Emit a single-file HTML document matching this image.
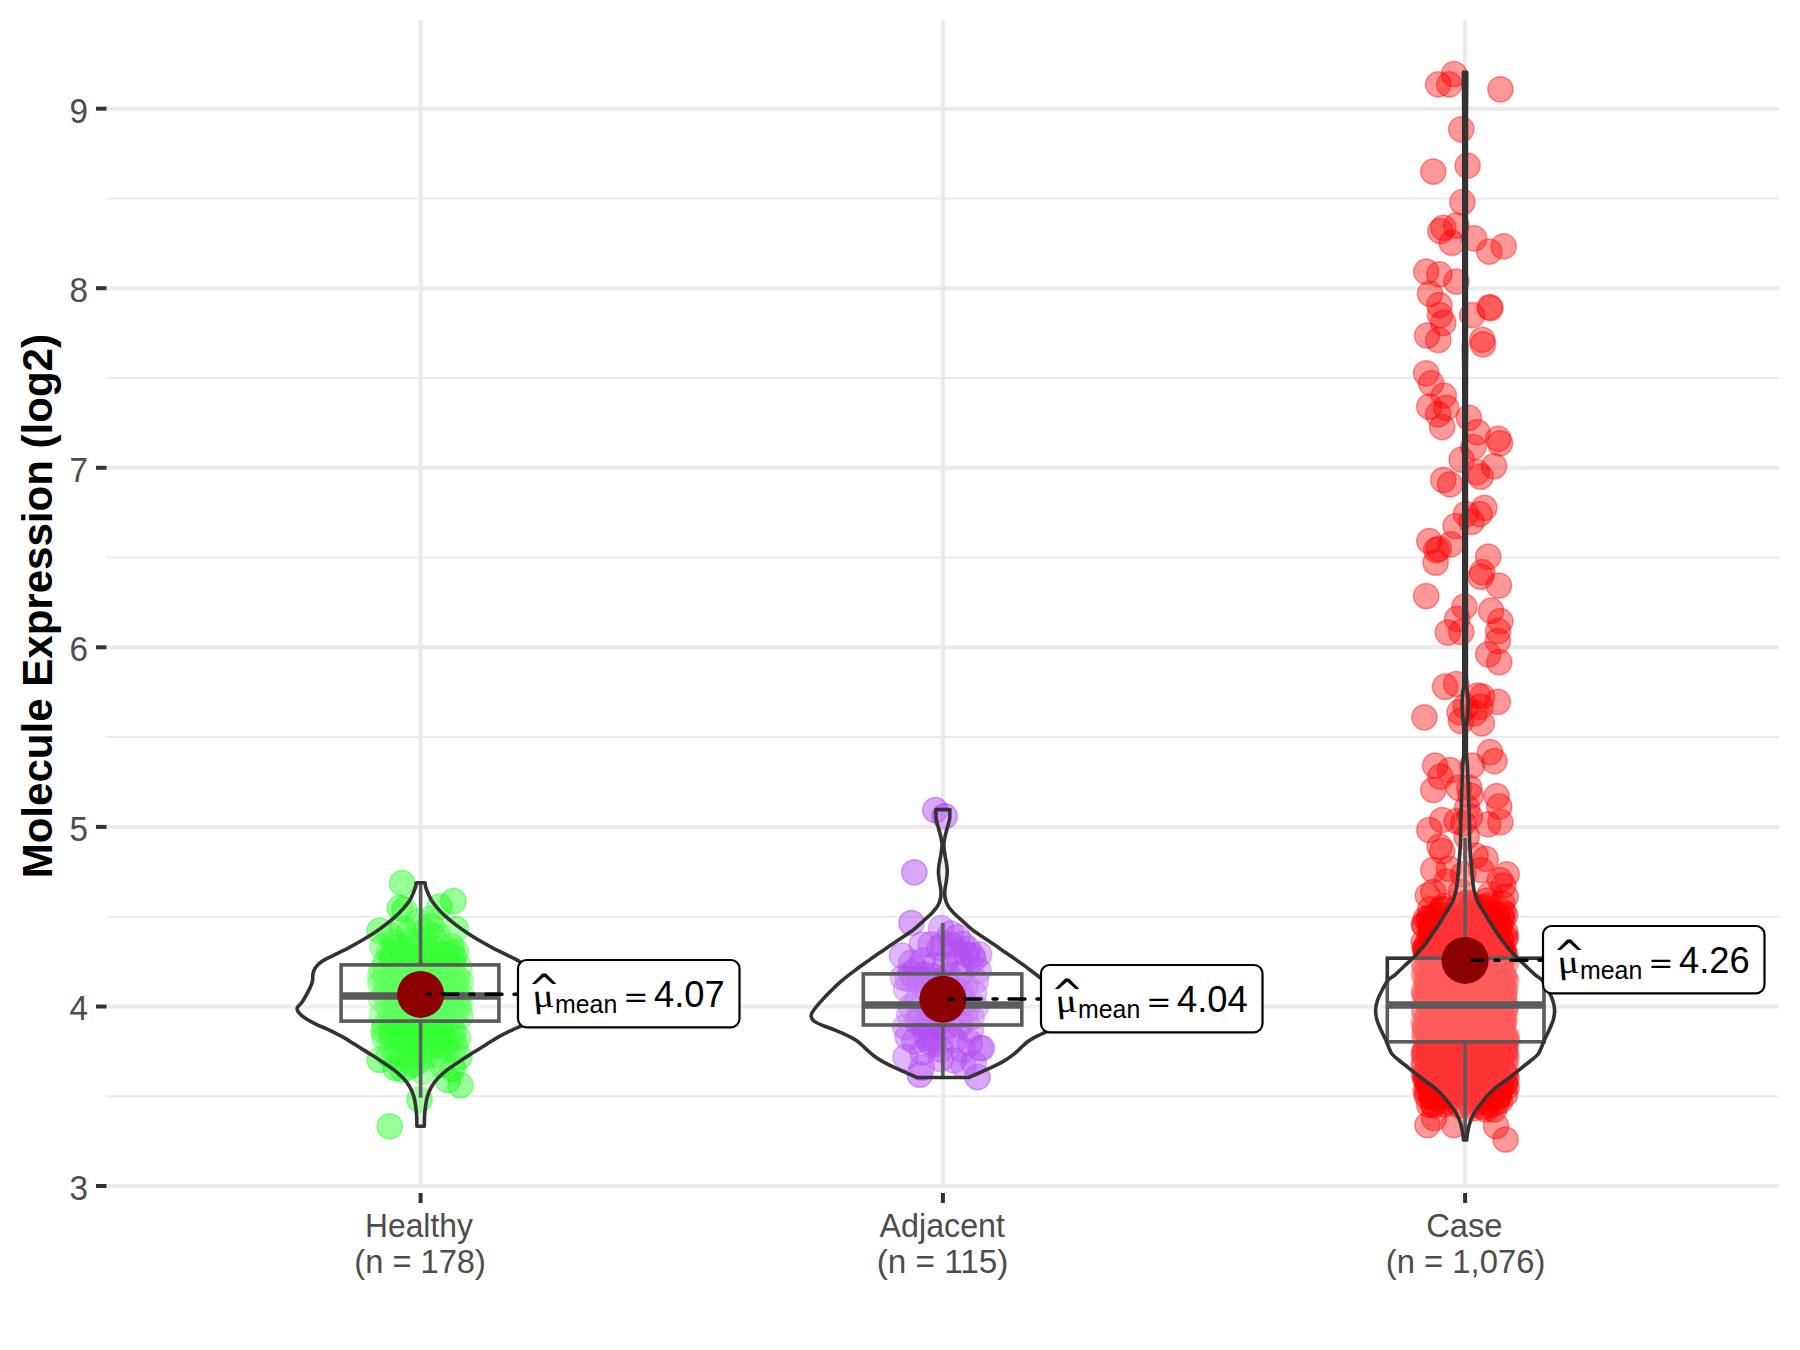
<!DOCTYPE html>
<html lang="en"><head><meta charset="utf-8"><title>Molecule Expression (log2)</title>
<style>
html,body{margin:0;padding:0;background:#fff;}
body{width:1800px;height:1350px;overflow:hidden;}
svg{display:block;}
text{font-family:"Liberation Sans",Arial,sans-serif;}
.ax{font-size:33.3px;fill:#4d4d4d;}
.ttl{font-size:41.7px;font-weight:bold;fill:#000;}
.lab{font-size:35.6px;fill:#000;}
.sub{font-size:24.9px;fill:#000;}
.mu{font-family:"Liberation Serif","DejaVu Serif",serif;font-style:italic;font-size:37px;fill:#000;}
.eq{font-family:"DejaVu Serif",serif;font-size:30px;fill:#000;}
.hat{font-family:"DejaVu Sans",sans-serif;font-size:39px;fill:#000;}
</style></head><body>
<svg width="1800" height="1350" viewBox="0 0 1800 1350">
<rect width="1800" height="1350" fill="#fff"/>
<g id="grid">
<line x1="106.5" x2="1779" y1="1096.2" y2="1096.2" stroke="#ebebeb" stroke-width="2"/>
<line x1="106.5" x2="1779" y1="916.7" y2="916.7" stroke="#ebebeb" stroke-width="2"/>
<line x1="106.5" x2="1779" y1="737.1" y2="737.1" stroke="#ebebeb" stroke-width="2"/>
<line x1="106.5" x2="1779" y1="557.6" y2="557.6" stroke="#ebebeb" stroke-width="2"/>
<line x1="106.5" x2="1779" y1="378.0" y2="378.0" stroke="#ebebeb" stroke-width="2"/>
<line x1="106.5" x2="1779" y1="198.5" y2="198.5" stroke="#ebebeb" stroke-width="2"/>
<line x1="106.5" x2="1779" y1="1186.0" y2="1186.0" stroke="#ebebeb" stroke-width="4"/>
<line x1="106.5" x2="1779" y1="1006.5" y2="1006.5" stroke="#ebebeb" stroke-width="4"/>
<line x1="106.5" x2="1779" y1="826.9" y2="826.9" stroke="#ebebeb" stroke-width="4"/>
<line x1="106.5" x2="1779" y1="647.3" y2="647.3" stroke="#ebebeb" stroke-width="4"/>
<line x1="106.5" x2="1779" y1="467.8" y2="467.8" stroke="#ebebeb" stroke-width="4"/>
<line x1="106.5" x2="1779" y1="288.2" y2="288.2" stroke="#ebebeb" stroke-width="4"/>
<line x1="106.5" x2="1779" y1="108.7" y2="108.7" stroke="#ebebeb" stroke-width="4"/>
<line x1="420.6" x2="420.6" y1="20" y2="1188" stroke="#ebebeb" stroke-width="4"/>
<line x1="942.9" x2="942.9" y1="20" y2="1188" stroke="#ebebeb" stroke-width="4"/>
<line x1="1465.1" x2="1465.1" y1="20" y2="1188" stroke="#ebebeb" stroke-width="4"/>
<line x1="96" x2="106.5" y1="1186.0" y2="1186.0" stroke="#333" stroke-width="4"/>
<line x1="96" x2="106.5" y1="1006.5" y2="1006.5" stroke="#333" stroke-width="4"/>
<line x1="96" x2="106.5" y1="826.9" y2="826.9" stroke="#333" stroke-width="4"/>
<line x1="96" x2="106.5" y1="647.3" y2="647.3" stroke="#333" stroke-width="4"/>
<line x1="96" x2="106.5" y1="467.8" y2="467.8" stroke="#333" stroke-width="4"/>
<line x1="96" x2="106.5" y1="288.2" y2="288.2" stroke="#333" stroke-width="4"/>
<line x1="96" x2="106.5" y1="108.7" y2="108.7" stroke="#333" stroke-width="4"/>
<line x1="420.6" x2="420.6" y1="1193" y2="1203" stroke="#333" stroke-width="4"/>
<line x1="942.9" x2="942.9" y1="1193" y2="1203" stroke="#333" stroke-width="4"/>
<line x1="1465.1" x2="1465.1" y1="1193" y2="1203" stroke="#333" stroke-width="4"/>
</g>
<g id="points">
<g fill="#00ff00" fill-opacity="0.4" stroke="#00ff00" stroke-opacity="0.4" stroke-width="1.5">
<circle cx="402.1" cy="883.2" r="12.6"/>
<circle cx="453.4" cy="901.1" r="12.6"/>
<circle cx="439.4" cy="906.6" r="12.6"/>
<circle cx="399.8" cy="908.1" r="12.6"/>
<circle cx="404.4" cy="909.7" r="12.6"/>
<circle cx="379.6" cy="930.7" r="12.6"/>
<circle cx="455.8" cy="929.1" r="12.6"/>
<circle cx="389.7" cy="1126.3" r="12.6"/>
<circle cx="419.5" cy="1099.6" r="12.6"/>
<circle cx="460.4" cy="1085.2" r="12.6"/>
<circle cx="448.0" cy="1080.1" r="12.6"/>
<circle cx="452.7" cy="1068.4" r="12.6"/>
<circle cx="379.6" cy="1059.9" r="12.6"/>
<circle cx="423.1" cy="1071.6" r="12.6"/>
<circle cx="409.1" cy="1056.0" r="12.6"/>
<circle cx="421.2" cy="973.7" r="12.6"/>
<circle cx="385.2" cy="974.7" r="12.6"/>
<circle cx="451.0" cy="1006.0" r="12.6"/>
<circle cx="459.5" cy="968.0" r="12.6"/>
<circle cx="427.1" cy="1024.8" r="12.6"/>
<circle cx="411.3" cy="967.6" r="12.6"/>
<circle cx="401.4" cy="992.2" r="12.6"/>
<circle cx="444.7" cy="1045.4" r="12.6"/>
<circle cx="422.9" cy="942.0" r="12.6"/>
<circle cx="422.9" cy="1001.2" r="12.6"/>
<circle cx="398.2" cy="1037.8" r="12.6"/>
<circle cx="436.2" cy="960.3" r="12.6"/>
<circle cx="444.9" cy="991.3" r="12.6"/>
<circle cx="445.0" cy="973.9" r="12.6"/>
<circle cx="408.5" cy="1016.8" r="12.6"/>
<circle cx="432.7" cy="937.3" r="12.6"/>
<circle cx="381.6" cy="999.4" r="12.6"/>
<circle cx="421.2" cy="955.5" r="12.6"/>
<circle cx="451.6" cy="1019.3" r="12.6"/>
<circle cx="415.1" cy="1046.0" r="12.6"/>
<circle cx="407.2" cy="1067.6" r="12.6"/>
<circle cx="384.8" cy="1025.6" r="12.6"/>
<circle cx="386.0" cy="986.1" r="12.6"/>
<circle cx="400.4" cy="970.8" r="12.6"/>
<circle cx="411.9" cy="993.7" r="12.6"/>
<circle cx="434.4" cy="1044.9" r="12.6"/>
<circle cx="392.9" cy="954.5" r="12.6"/>
<circle cx="440.9" cy="1007.8" r="12.6"/>
<circle cx="391.4" cy="1037.2" r="12.6"/>
<circle cx="398.7" cy="1021.5" r="12.6"/>
<circle cx="439.8" cy="1019.2" r="12.6"/>
<circle cx="402.7" cy="928.5" r="12.6"/>
<circle cx="431.0" cy="926.4" r="12.6"/>
<circle cx="417.5" cy="1062.1" r="12.6"/>
<circle cx="441.9" cy="1064.7" r="12.6"/>
<circle cx="455.1" cy="1047.1" r="12.6"/>
<circle cx="451.7" cy="946.4" r="12.6"/>
<circle cx="441.1" cy="1030.5" r="12.6"/>
<circle cx="401.2" cy="1058.9" r="12.6"/>
<circle cx="395.7" cy="986.7" r="12.6"/>
<circle cx="410.6" cy="981.2" r="12.6"/>
<circle cx="397.6" cy="1014.6" r="12.6"/>
<circle cx="411.8" cy="1008.0" r="12.6"/>
<circle cx="456.4" cy="998.0" r="12.6"/>
<circle cx="398.2" cy="1007.3" r="12.6"/>
<circle cx="418.6" cy="1016.9" r="12.6"/>
<circle cx="421.0" cy="1027.6" r="12.6"/>
<circle cx="398.0" cy="1044.1" r="12.6"/>
<circle cx="395.5" cy="1068.0" r="12.6"/>
<circle cx="382.6" cy="946.9" r="12.6"/>
<circle cx="440.6" cy="963.9" r="12.6"/>
<circle cx="382.1" cy="1015.3" r="12.6"/>
<circle cx="385.3" cy="962.6" r="12.6"/>
<circle cx="459.5" cy="1002.7" r="12.6"/>
<circle cx="389.9" cy="1017.7" r="12.6"/>
<circle cx="400.1" cy="1031.4" r="12.6"/>
<circle cx="460.4" cy="1016.2" r="12.6"/>
<circle cx="388.7" cy="1054.8" r="12.6"/>
<circle cx="432.9" cy="948.6" r="12.6"/>
<circle cx="431.9" cy="978.3" r="12.6"/>
<circle cx="460.8" cy="981.5" r="12.6"/>
<circle cx="410.1" cy="941.8" r="12.6"/>
<circle cx="412.9" cy="959.3" r="12.6"/>
<circle cx="425.6" cy="1056.1" r="12.6"/>
<circle cx="390.0" cy="935.0" r="12.6"/>
<circle cx="430.2" cy="984.9" r="12.6"/>
<circle cx="384.5" cy="1037.5" r="12.6"/>
<circle cx="402.4" cy="951.0" r="12.6"/>
<circle cx="389.4" cy="952.3" r="12.6"/>
<circle cx="388.6" cy="1006.9" r="12.6"/>
<circle cx="405.4" cy="1007.8" r="12.6"/>
<circle cx="417.8" cy="922.2" r="12.6"/>
<circle cx="456.0" cy="990.6" r="12.6"/>
<circle cx="453.3" cy="1030.7" r="12.6"/>
<circle cx="424.7" cy="1037.7" r="12.6"/>
<circle cx="416.8" cy="989.1" r="12.6"/>
<circle cx="401.6" cy="999.1" r="12.6"/>
<circle cx="406.6" cy="1028.5" r="12.6"/>
<circle cx="430.5" cy="964.7" r="12.6"/>
<circle cx="452.3" cy="1038.2" r="12.6"/>
<circle cx="406.0" cy="957.1" r="12.6"/>
<circle cx="397.6" cy="1001.0" r="12.6"/>
<circle cx="393.9" cy="942.0" r="12.6"/>
<circle cx="431.7" cy="994.2" r="12.6"/>
<circle cx="451.7" cy="994.7" r="12.6"/>
<circle cx="393.8" cy="1019.6" r="12.6"/>
<circle cx="395.6" cy="1054.2" r="12.6"/>
<circle cx="453.6" cy="979.7" r="12.6"/>
<circle cx="414.4" cy="1014.6" r="12.6"/>
<circle cx="443.1" cy="954.2" r="12.6"/>
<circle cx="390.0" cy="977.8" r="12.6"/>
<circle cx="445.0" cy="998.7" r="12.6"/>
<circle cx="418.0" cy="1037.7" r="12.6"/>
<circle cx="380.3" cy="983.0" r="12.6"/>
<circle cx="447.2" cy="1049.4" r="12.6"/>
<circle cx="391.5" cy="1033.5" r="12.6"/>
<circle cx="443.4" cy="1010.3" r="12.6"/>
<circle cx="391.4" cy="958.0" r="12.6"/>
<circle cx="425.7" cy="1047.3" r="12.6"/>
<circle cx="455.6" cy="1011.5" r="12.6"/>
<circle cx="418.5" cy="978.3" r="12.6"/>
<circle cx="420.9" cy="983.3" r="12.6"/>
<circle cx="430.9" cy="1011.8" r="12.6"/>
<circle cx="435.3" cy="1008.7" r="12.6"/>
<circle cx="455.7" cy="983.8" r="12.6"/>
<circle cx="459.5" cy="1008.8" r="12.6"/>
<circle cx="431.0" cy="1030.1" r="12.6"/>
<circle cx="430.5" cy="918.8" r="12.6"/>
<circle cx="384.9" cy="994.2" r="12.6"/>
<circle cx="443.8" cy="981.8" r="12.6"/>
<circle cx="435.6" cy="1054.7" r="12.6"/>
<circle cx="440.9" cy="1040.6" r="12.6"/>
<circle cx="429.3" cy="960.9" r="12.6"/>
<circle cx="451.8" cy="953.1" r="12.6"/>
<circle cx="381.8" cy="970.5" r="12.6"/>
<circle cx="458.1" cy="1038.1" r="12.6"/>
<circle cx="457.8" cy="978.6" r="12.6"/>
<circle cx="437.6" cy="936.2" r="12.6"/>
<circle cx="402.7" cy="1069.7" r="12.6"/>
<circle cx="398.0" cy="947.2" r="12.6"/>
<circle cx="431.0" cy="1044.6" r="12.6"/>
<circle cx="413.5" cy="1052.0" r="12.6"/>
<circle cx="459.4" cy="1057.0" r="12.6"/>
<circle cx="409.2" cy="932.1" r="12.6"/>
<circle cx="402.3" cy="1011.3" r="12.6"/>
<circle cx="413.2" cy="948.4" r="12.6"/>
<circle cx="422.2" cy="1009.2" r="12.6"/>
<circle cx="406.1" cy="1044.2" r="12.6"/>
<circle cx="423.1" cy="993.7" r="12.6"/>
<circle cx="456.0" cy="951.7" r="12.6"/>
<circle cx="407.2" cy="969.5" r="12.6"/>
<circle cx="423.1" cy="1015.1" r="12.6"/>
<circle cx="424.0" cy="1022.2" r="12.6"/>
<circle cx="392.1" cy="989.3" r="12.6"/>
<circle cx="448.1" cy="954.7" r="12.6"/>
<circle cx="427.5" cy="996.4" r="12.6"/>
<circle cx="460.1" cy="993.2" r="12.6"/>
<circle cx="443.7" cy="1034.8" r="12.6"/>
<circle cx="426.3" cy="930.6" r="12.6"/>
<circle cx="443.9" cy="976.6" r="12.6"/>
<circle cx="448.0" cy="967.2" r="12.6"/>
<circle cx="442.8" cy="994.1" r="12.6"/>
<circle cx="410.4" cy="998.4" r="12.6"/>
<circle cx="393.9" cy="999.2" r="12.6"/>
<circle cx="395.3" cy="996.3" r="12.6"/>
<circle cx="436.0" cy="1039.1" r="12.6"/>
<circle cx="432.5" cy="1002.8" r="12.6"/>
<circle cx="438.1" cy="972.6" r="12.6"/>
<circle cx="404.7" cy="1037.7" r="12.6"/>
<circle cx="413.1" cy="1064.2" r="12.6"/>
<circle cx="425.6" cy="968.4" r="12.6"/>
<circle cx="401.9" cy="1026.4" r="12.6"/>
<circle cx="453.0" cy="964.4" r="12.6"/>
<circle cx="426.1" cy="976.6" r="12.6"/>
<circle cx="412.8" cy="1028.1" r="12.6"/>
<circle cx="408.6" cy="1022.3" r="12.6"/>
<circle cx="383.4" cy="1030.8" r="12.6"/>
<circle cx="380.2" cy="976.1" r="12.6"/>
<circle cx="454.2" cy="957.7" r="12.6"/>
<circle cx="421.6" cy="986.5" r="12.6"/>
<circle cx="405.3" cy="980.8" r="12.6"/>
<circle cx="399.4" cy="1026.6" r="12.6"/>
<circle cx="428.6" cy="952.3" r="12.6"/>
<circle cx="438.2" cy="1033.3" r="12.6"/>
</g>
<g fill="#a020f0" fill-opacity="0.4" stroke="#a020f0" stroke-opacity="0.4" stroke-width="1.5">
<circle cx="935.3" cy="810.1" r="12.6"/>
<circle cx="944.7" cy="816.3" r="12.6"/>
<circle cx="914.3" cy="872.3" r="12.6"/>
<circle cx="911.5" cy="923.0" r="12.6"/>
<circle cx="941.1" cy="928.2" r="12.6"/>
<circle cx="950.8" cy="933.3" r="12.6"/>
<circle cx="957.4" cy="937.0" r="12.6"/>
<circle cx="921.9" cy="944.5" r="12.6"/>
<circle cx="967.8" cy="948.9" r="12.6"/>
<circle cx="972.3" cy="955.6" r="12.6"/>
<circle cx="901.9" cy="955.6" r="12.6"/>
<circle cx="973.7" cy="959.3" r="12.6"/>
<circle cx="977.5" cy="1077.1" r="12.6"/>
<circle cx="921.9" cy="1067.5" r="12.6"/>
<circle cx="905.6" cy="1057.1" r="12.6"/>
<circle cx="980.4" cy="1048.2" r="12.6"/>
<circle cx="973.7" cy="1063.0" r="12.6"/>
<circle cx="919.8" cy="1074.7" r="12.6"/>
<circle cx="982.0" cy="1048.0" r="12.6"/>
<circle cx="952.9" cy="1015.4" r="12.6"/>
<circle cx="930.9" cy="980.3" r="12.6"/>
<circle cx="940.7" cy="1059.1" r="12.6"/>
<circle cx="953.6" cy="987.9" r="12.6"/>
<circle cx="954.8" cy="1040.3" r="12.6"/>
<circle cx="911.2" cy="1006.8" r="12.6"/>
<circle cx="945.3" cy="964.2" r="12.6"/>
<circle cx="979.1" cy="954.4" r="12.6"/>
<circle cx="960.1" cy="961.2" r="12.6"/>
<circle cx="975.8" cy="980.7" r="12.6"/>
<circle cx="965.0" cy="1003.2" r="12.6"/>
<circle cx="939.2" cy="1022.4" r="12.6"/>
<circle cx="929.8" cy="1008.5" r="12.6"/>
<circle cx="923.5" cy="974.4" r="12.6"/>
<circle cx="951.6" cy="1004.1" r="12.6"/>
<circle cx="902.9" cy="977.5" r="12.6"/>
<circle cx="922.3" cy="1052.3" r="12.6"/>
<circle cx="917.6" cy="1021.7" r="12.6"/>
<circle cx="948.7" cy="975.5" r="12.6"/>
<circle cx="974.1" cy="993.0" r="12.6"/>
<circle cx="926.3" cy="1037.8" r="12.6"/>
<circle cx="939.3" cy="947.9" r="12.6"/>
<circle cx="978.5" cy="970.6" r="12.6"/>
<circle cx="922.7" cy="960.5" r="12.6"/>
<circle cx="960.6" cy="973.7" r="12.6"/>
<circle cx="962.8" cy="1050.2" r="12.6"/>
<circle cx="970.7" cy="1030.3" r="12.6"/>
<circle cx="905.3" cy="1026.9" r="12.6"/>
<circle cx="935.6" cy="996.3" r="12.6"/>
<circle cx="945.5" cy="999.2" r="12.6"/>
<circle cx="927.0" cy="990.3" r="12.6"/>
<circle cx="911.4" cy="962.7" r="12.6"/>
<circle cx="919.7" cy="1015.5" r="12.6"/>
<circle cx="915.7" cy="970.1" r="12.6"/>
<circle cx="914.3" cy="1041.2" r="12.6"/>
<circle cx="920.8" cy="979.9" r="12.6"/>
<circle cx="935.1" cy="965.4" r="12.6"/>
<circle cx="965.2" cy="985.5" r="12.6"/>
<circle cx="943.1" cy="1032.8" r="12.6"/>
<circle cx="959.7" cy="1024.5" r="12.6"/>
<circle cx="969.9" cy="1042.9" r="12.6"/>
<circle cx="940.2" cy="980.8" r="12.6"/>
<circle cx="937.6" cy="1014.6" r="12.6"/>
<circle cx="906.1" cy="989.0" r="12.6"/>
<circle cx="962.2" cy="943.7" r="12.6"/>
<circle cx="956.3" cy="951.1" r="12.6"/>
<circle cx="966.6" cy="954.4" r="12.6"/>
<circle cx="944.3" cy="1015.3" r="12.6"/>
<circle cx="959.9" cy="991.1" r="12.6"/>
<circle cx="907.7" cy="1037.1" r="12.6"/>
<circle cx="940.8" cy="1049.6" r="12.6"/>
<circle cx="917.7" cy="998.9" r="12.6"/>
<circle cx="951.4" cy="945.2" r="12.6"/>
<circle cx="929.0" cy="1022.3" r="12.6"/>
<circle cx="963.7" cy="1065.7" r="12.6"/>
<circle cx="966.3" cy="1010.3" r="12.6"/>
<circle cx="975.7" cy="1007.0" r="12.6"/>
<circle cx="933.8" cy="1044.0" r="12.6"/>
<circle cx="909.2" cy="1014.2" r="12.6"/>
<circle cx="971.6" cy="1016.9" r="12.6"/>
<circle cx="953.6" cy="1060.3" r="12.6"/>
<circle cx="942.8" cy="987.4" r="12.6"/>
<circle cx="930.6" cy="944.4" r="12.6"/>
<circle cx="923.9" cy="1026.5" r="12.6"/>
<circle cx="910.8" cy="973.6" r="12.6"/>
<circle cx="914.1" cy="979.7" r="12.6"/>
<circle cx="929.8" cy="1042.4" r="12.6"/>
<circle cx="932.9" cy="1037.6" r="12.6"/>
<circle cx="942.7" cy="1007.0" r="12.6"/>
<circle cx="954.1" cy="998.3" r="12.6"/>
<circle cx="949.8" cy="1025.8" r="12.6"/>
<circle cx="907.9" cy="978.9" r="12.6"/>
<circle cx="943.2" cy="943.6" r="12.6"/>
<circle cx="933.4" cy="1028.5" r="12.6"/>
<circle cx="933.6" cy="976.5" r="12.6"/>
<circle cx="929.9" cy="1015.7" r="12.6"/>
</g>
<g fill="#ff0000" fill-opacity="0.4" stroke="#ff0000" stroke-opacity="0.4" stroke-width="1.5">
<circle cx="1454.0" cy="74.0" r="12.6"/>
<circle cx="1438.2" cy="84.4" r="12.6"/>
<circle cx="1449.3" cy="84.4" r="12.6"/>
<circle cx="1500.4" cy="89.3" r="12.6"/>
<circle cx="1461.3" cy="129.3" r="12.6"/>
<circle cx="1467.6" cy="165.6" r="12.6"/>
<circle cx="1433.3" cy="171.6" r="12.6"/>
<circle cx="1462.4" cy="202.2" r="12.6"/>
<circle cx="1456.2" cy="225.6" r="12.6"/>
<circle cx="1443.3" cy="227.8" r="12.6"/>
<circle cx="1440.4" cy="231.1" r="12.6"/>
<circle cx="1451.8" cy="242.9" r="12.6"/>
<circle cx="1474.0" cy="238.4" r="12.6"/>
<circle cx="1489.3" cy="251.6" r="12.6"/>
<circle cx="1503.6" cy="246.4" r="12.6"/>
<circle cx="1426.2" cy="271.6" r="12.6"/>
<circle cx="1439.3" cy="274.4" r="12.6"/>
<circle cx="1456.4" cy="281.6" r="12.6"/>
<circle cx="1430.0" cy="293.8" r="12.6"/>
<circle cx="1439.3" cy="305.1" r="12.6"/>
<circle cx="1440.0" cy="315.1" r="12.6"/>
<circle cx="1443.3" cy="322.9" r="12.6"/>
<circle cx="1472.2" cy="315.1" r="12.6"/>
<circle cx="1489.6" cy="307.1" r="12.6"/>
<circle cx="1490.4" cy="308.2" r="12.6"/>
<circle cx="1427.1" cy="335.6" r="12.6"/>
<circle cx="1438.4" cy="340.0" r="12.6"/>
<circle cx="1482.2" cy="339.9" r="12.6"/>
<circle cx="1482.9" cy="344.3" r="12.6"/>
<circle cx="1426.2" cy="373.3" r="12.6"/>
<circle cx="1431.1" cy="383.3" r="12.6"/>
<circle cx="1443.8" cy="395.6" r="12.6"/>
<circle cx="1429.3" cy="406.7" r="12.6"/>
<circle cx="1446.2" cy="407.8" r="12.6"/>
<circle cx="1438.2" cy="414.4" r="12.6"/>
<circle cx="1442.2" cy="427.1" r="12.6"/>
<circle cx="1468.9" cy="417.8" r="12.6"/>
<circle cx="1477.3" cy="432.2" r="12.6"/>
<circle cx="1473.3" cy="447.1" r="12.6"/>
<circle cx="1498.2" cy="438.9" r="12.6"/>
<circle cx="1500.0" cy="443.3" r="12.6"/>
<circle cx="1461.6" cy="459.6" r="12.6"/>
<circle cx="1494.0" cy="466.2" r="12.6"/>
<circle cx="1476.7" cy="472.2" r="12.6"/>
<circle cx="1480.7" cy="476.7" r="12.6"/>
<circle cx="1443.3" cy="480.0" r="12.6"/>
<circle cx="1450.0" cy="484.4" r="12.6"/>
<circle cx="1484.4" cy="507.8" r="12.6"/>
<circle cx="1466.0" cy="514.0" r="12.6"/>
<circle cx="1479.6" cy="514.0" r="12.6"/>
<circle cx="1471.6" cy="521.8" r="12.6"/>
<circle cx="1455.6" cy="526.0" r="12.6"/>
<circle cx="1429.3" cy="541.1" r="12.6"/>
<circle cx="1436.2" cy="550.0" r="12.6"/>
<circle cx="1438.9" cy="548.9" r="12.6"/>
<circle cx="1450.7" cy="544.4" r="12.6"/>
<circle cx="1435.6" cy="562.7" r="12.6"/>
<circle cx="1488.2" cy="556.7" r="12.6"/>
<circle cx="1482.2" cy="572.2" r="12.6"/>
<circle cx="1480.7" cy="576.7" r="12.6"/>
<circle cx="1498.9" cy="585.6" r="12.6"/>
<circle cx="1426.2" cy="596.0" r="12.6"/>
<circle cx="1464.4" cy="606.7" r="12.6"/>
<circle cx="1457.1" cy="618.9" r="12.6"/>
<circle cx="1491.1" cy="610.7" r="12.6"/>
<circle cx="1500.4" cy="621.1" r="12.6"/>
<circle cx="1447.8" cy="632.5" r="12.6"/>
<circle cx="1461.3" cy="632.0" r="12.6"/>
<circle cx="1498.1" cy="631.0" r="12.6"/>
<circle cx="1497.8" cy="641.1" r="12.6"/>
<circle cx="1488.2" cy="654.4" r="12.6"/>
<circle cx="1499.3" cy="662.2" r="12.6"/>
<circle cx="1445.1" cy="686.7" r="12.6"/>
<circle cx="1456.2" cy="684.0" r="12.6"/>
<circle cx="1477.8" cy="695.6" r="12.6"/>
<circle cx="1482.2" cy="696.7" r="12.6"/>
<circle cx="1497.8" cy="701.8" r="12.6"/>
<circle cx="1465.6" cy="706.7" r="12.6"/>
<circle cx="1480.4" cy="706.7" r="12.6"/>
<circle cx="1459.6" cy="712.2" r="12.6"/>
<circle cx="1474.4" cy="713.3" r="12.6"/>
<circle cx="1424.4" cy="717.3" r="12.6"/>
<circle cx="1461.1" cy="721.1" r="12.6"/>
<circle cx="1481.8" cy="723.3" r="12.6"/>
<circle cx="1490.0" cy="752.2" r="12.6"/>
<circle cx="1494.4" cy="761.1" r="12.6"/>
<circle cx="1435.1" cy="765.6" r="12.6"/>
<circle cx="1450.0" cy="770.0" r="12.6"/>
<circle cx="1472.2" cy="765.6" r="12.6"/>
<circle cx="1440.4" cy="776.7" r="12.6"/>
<circle cx="1433.3" cy="790.0" r="12.6"/>
<circle cx="1458.9" cy="787.8" r="12.6"/>
<circle cx="1469.3" cy="787.8" r="12.6"/>
<circle cx="1470.7" cy="795.6" r="12.6"/>
<circle cx="1496.7" cy="796.2" r="12.6"/>
<circle cx="1499.3" cy="806.7" r="12.6"/>
<circle cx="1467.1" cy="807.8" r="12.6"/>
<circle cx="1442.2" cy="820.0" r="12.6"/>
<circle cx="1456.7" cy="821.1" r="12.6"/>
<circle cx="1470.0" cy="816.7" r="12.6"/>
<circle cx="1463.3" cy="823.3" r="12.6"/>
<circle cx="1488.2" cy="824.4" r="12.6"/>
<circle cx="1500.4" cy="822.2" r="12.6"/>
<circle cx="1429.3" cy="830.0" r="12.6"/>
<circle cx="1466.7" cy="836.7" r="12.6"/>
<circle cx="1439.6" cy="846.7" r="12.6"/>
<circle cx="1442.2" cy="851.1" r="12.6"/>
<circle cx="1475.6" cy="855.6" r="12.6"/>
<circle cx="1485.6" cy="858.9" r="12.6"/>
<circle cx="1433.3" cy="870.0" r="12.6"/>
<circle cx="1448.9" cy="868.9" r="12.6"/>
<circle cx="1463.3" cy="874.4" r="12.6"/>
<circle cx="1481.1" cy="870.0" r="12.6"/>
<circle cx="1506.7" cy="874.4" r="12.6"/>
<circle cx="1500.0" cy="880.0" r="12.6"/>
<circle cx="1503.3" cy="885.6" r="12.6"/>
<circle cx="1427.8" cy="895.6" r="12.6"/>
<circle cx="1433.3" cy="892.2" r="12.6"/>
<circle cx="1461.0" cy="892.0" r="12.6"/>
<circle cx="1490.0" cy="894.4" r="12.6"/>
<circle cx="1505.6" cy="896.7" r="12.6"/>
<circle cx="1427.5" cy="1125.0" r="12.6"/>
<circle cx="1434.0" cy="1118.0" r="12.6"/>
<circle cx="1454.0" cy="1125.0" r="12.6"/>
<circle cx="1496.0" cy="1126.0" r="12.6"/>
<circle cx="1505.5" cy="1139.5" r="12.6"/>
<circle cx="1442.9" cy="1072.1" r="12.6"/>
<circle cx="1482.1" cy="932.3" r="12.6"/>
<circle cx="1448.4" cy="1005.8" r="12.6"/>
<circle cx="1483.6" cy="1006.8" r="12.6"/>
<circle cx="1452.6" cy="937.5" r="12.6"/>
<circle cx="1486.7" cy="1024.1" r="12.6"/>
<circle cx="1471.2" cy="953.6" r="12.6"/>
<circle cx="1491.3" cy="1057.7" r="12.6"/>
<circle cx="1505.4" cy="938.6" r="12.6"/>
<circle cx="1455.0" cy="987.4" r="12.6"/>
<circle cx="1505.5" cy="1004.3" r="12.6"/>
<circle cx="1424.4" cy="1036.3" r="12.6"/>
<circle cx="1496.4" cy="1008.4" r="12.6"/>
<circle cx="1426.1" cy="952.9" r="12.6"/>
<circle cx="1468.9" cy="937.1" r="12.6"/>
<circle cx="1455.8" cy="1002.8" r="12.6"/>
<circle cx="1487.5" cy="1038.6" r="12.6"/>
<circle cx="1449.7" cy="999.5" r="12.6"/>
<circle cx="1440.9" cy="1056.2" r="12.6"/>
<circle cx="1488.7" cy="1005.7" r="12.6"/>
<circle cx="1469.3" cy="1045.9" r="12.6"/>
<circle cx="1486.3" cy="1049.7" r="12.6"/>
<circle cx="1464.2" cy="1031.2" r="12.6"/>
<circle cx="1426.6" cy="957.5" r="12.6"/>
<circle cx="1487.6" cy="1038.1" r="12.6"/>
<circle cx="1441.7" cy="919.6" r="12.6"/>
<circle cx="1462.8" cy="919.6" r="12.6"/>
<circle cx="1423.6" cy="942.5" r="12.6"/>
<circle cx="1445.1" cy="1062.7" r="12.6"/>
<circle cx="1478.8" cy="1022.6" r="12.6"/>
<circle cx="1487.0" cy="1012.0" r="12.6"/>
<circle cx="1476.4" cy="1030.3" r="12.6"/>
<circle cx="1460.4" cy="927.4" r="12.6"/>
<circle cx="1484.4" cy="1020.5" r="12.6"/>
<circle cx="1479.1" cy="991.0" r="12.6"/>
<circle cx="1440.7" cy="1060.3" r="12.6"/>
<circle cx="1468.0" cy="1003.1" r="12.6"/>
<circle cx="1473.2" cy="1041.4" r="12.6"/>
<circle cx="1484.1" cy="997.4" r="12.6"/>
<circle cx="1440.0" cy="982.2" r="12.6"/>
<circle cx="1449.4" cy="1080.8" r="12.6"/>
<circle cx="1452.1" cy="985.1" r="12.6"/>
<circle cx="1431.6" cy="1063.7" r="12.6"/>
<circle cx="1452.5" cy="1065.0" r="12.6"/>
<circle cx="1484.2" cy="926.9" r="12.6"/>
<circle cx="1471.5" cy="1049.8" r="12.6"/>
<circle cx="1438.0" cy="1015.5" r="12.6"/>
<circle cx="1484.3" cy="993.1" r="12.6"/>
<circle cx="1433.3" cy="1054.6" r="12.6"/>
<circle cx="1486.0" cy="1047.5" r="12.6"/>
<circle cx="1435.9" cy="997.7" r="12.6"/>
<circle cx="1431.6" cy="999.9" r="12.6"/>
<circle cx="1444.5" cy="962.3" r="12.6"/>
<circle cx="1466.3" cy="981.3" r="12.6"/>
<circle cx="1446.0" cy="1061.8" r="12.6"/>
<circle cx="1497.0" cy="961.7" r="12.6"/>
<circle cx="1501.5" cy="916.2" r="12.6"/>
<circle cx="1447.1" cy="977.4" r="12.6"/>
<circle cx="1485.8" cy="1070.1" r="12.6"/>
<circle cx="1481.3" cy="974.4" r="12.6"/>
<circle cx="1470.2" cy="985.1" r="12.6"/>
<circle cx="1444.8" cy="1104.2" r="12.6"/>
<circle cx="1502.4" cy="1017.7" r="12.6"/>
<circle cx="1503.0" cy="1019.1" r="12.6"/>
<circle cx="1424.7" cy="993.1" r="12.6"/>
<circle cx="1451.0" cy="929.8" r="12.6"/>
<circle cx="1450.2" cy="947.1" r="12.6"/>
<circle cx="1440.1" cy="1048.7" r="12.6"/>
<circle cx="1459.3" cy="961.4" r="12.6"/>
<circle cx="1498.1" cy="953.6" r="12.6"/>
<circle cx="1425.6" cy="1029.6" r="12.6"/>
<circle cx="1493.0" cy="1031.0" r="12.6"/>
<circle cx="1449.2" cy="972.5" r="12.6"/>
<circle cx="1424.7" cy="925.3" r="12.6"/>
<circle cx="1498.3" cy="983.9" r="12.6"/>
<circle cx="1446.2" cy="947.4" r="12.6"/>
<circle cx="1441.2" cy="972.3" r="12.6"/>
<circle cx="1433.3" cy="1049.2" r="12.6"/>
<circle cx="1454.1" cy="1056.9" r="12.6"/>
<circle cx="1433.5" cy="1077.6" r="12.6"/>
<circle cx="1438.5" cy="1076.9" r="12.6"/>
<circle cx="1444.4" cy="1045.5" r="12.6"/>
<circle cx="1471.6" cy="914.0" r="12.6"/>
<circle cx="1460.6" cy="1092.1" r="12.6"/>
<circle cx="1448.9" cy="1043.2" r="12.6"/>
<circle cx="1467.3" cy="1043.6" r="12.6"/>
<circle cx="1487.9" cy="940.6" r="12.6"/>
<circle cx="1483.7" cy="1041.8" r="12.6"/>
<circle cx="1452.1" cy="956.4" r="12.6"/>
<circle cx="1499.8" cy="984.4" r="12.6"/>
<circle cx="1489.3" cy="962.1" r="12.6"/>
<circle cx="1470.2" cy="1016.1" r="12.6"/>
<circle cx="1463.1" cy="968.8" r="12.6"/>
<circle cx="1451.0" cy="1064.2" r="12.6"/>
<circle cx="1434.7" cy="950.6" r="12.6"/>
<circle cx="1497.1" cy="988.5" r="12.6"/>
<circle cx="1474.1" cy="1039.6" r="12.6"/>
<circle cx="1431.8" cy="1085.1" r="12.6"/>
<circle cx="1500.4" cy="1044.1" r="12.6"/>
<circle cx="1497.2" cy="958.7" r="12.6"/>
<circle cx="1426.4" cy="999.2" r="12.6"/>
<circle cx="1481.7" cy="1003.5" r="12.6"/>
<circle cx="1443.4" cy="930.7" r="12.6"/>
<circle cx="1468.1" cy="1007.4" r="12.6"/>
<circle cx="1492.8" cy="957.9" r="12.6"/>
<circle cx="1452.7" cy="935.5" r="12.6"/>
<circle cx="1465.0" cy="983.9" r="12.6"/>
<circle cx="1478.8" cy="926.2" r="12.6"/>
<circle cx="1439.6" cy="1060.1" r="12.6"/>
<circle cx="1475.6" cy="1082.7" r="12.6"/>
<circle cx="1458.9" cy="959.7" r="12.6"/>
<circle cx="1505.1" cy="1084.1" r="12.6"/>
<circle cx="1439.2" cy="928.5" r="12.6"/>
<circle cx="1482.6" cy="1057.5" r="12.6"/>
<circle cx="1427.0" cy="1002.1" r="12.6"/>
<circle cx="1446.4" cy="983.9" r="12.6"/>
<circle cx="1433.4" cy="947.8" r="12.6"/>
<circle cx="1436.0" cy="1041.9" r="12.6"/>
<circle cx="1467.4" cy="1059.4" r="12.6"/>
<circle cx="1438.1" cy="958.6" r="12.6"/>
<circle cx="1489.6" cy="1032.4" r="12.6"/>
<circle cx="1431.6" cy="1082.6" r="12.6"/>
<circle cx="1475.3" cy="1091.6" r="12.6"/>
<circle cx="1495.1" cy="1091.4" r="12.6"/>
<circle cx="1434.1" cy="955.2" r="12.6"/>
<circle cx="1441.6" cy="999.4" r="12.6"/>
<circle cx="1487.1" cy="1028.1" r="12.6"/>
<circle cx="1462.6" cy="992.0" r="12.6"/>
<circle cx="1501.0" cy="958.4" r="12.6"/>
<circle cx="1451.6" cy="1013.8" r="12.6"/>
<circle cx="1456.6" cy="1009.9" r="12.6"/>
<circle cx="1503.1" cy="1035.6" r="12.6"/>
<circle cx="1452.1" cy="1078.0" r="12.6"/>
<circle cx="1503.8" cy="976.0" r="12.6"/>
<circle cx="1497.6" cy="980.3" r="12.6"/>
<circle cx="1440.2" cy="963.3" r="12.6"/>
<circle cx="1468.9" cy="1023.8" r="12.6"/>
<circle cx="1501.7" cy="939.4" r="12.6"/>
<circle cx="1433.3" cy="941.7" r="12.6"/>
<circle cx="1494.0" cy="1015.9" r="12.6"/>
<circle cx="1487.9" cy="1088.4" r="12.6"/>
<circle cx="1485.8" cy="958.6" r="12.6"/>
<circle cx="1473.5" cy="1028.5" r="12.6"/>
<circle cx="1431.9" cy="993.4" r="12.6"/>
<circle cx="1503.1" cy="1043.7" r="12.6"/>
<circle cx="1432.1" cy="932.7" r="12.6"/>
<circle cx="1488.6" cy="969.6" r="12.6"/>
<circle cx="1483.6" cy="995.6" r="12.6"/>
<circle cx="1449.9" cy="1042.0" r="12.6"/>
<circle cx="1480.4" cy="935.2" r="12.6"/>
<circle cx="1457.7" cy="1043.0" r="12.6"/>
<circle cx="1485.9" cy="1025.5" r="12.6"/>
<circle cx="1427.2" cy="1049.7" r="12.6"/>
<circle cx="1501.1" cy="959.1" r="12.6"/>
<circle cx="1455.5" cy="1016.2" r="12.6"/>
<circle cx="1490.3" cy="1036.2" r="12.6"/>
<circle cx="1462.7" cy="1045.7" r="12.6"/>
<circle cx="1491.0" cy="1046.9" r="12.6"/>
<circle cx="1448.6" cy="1040.9" r="12.6"/>
<circle cx="1468.8" cy="958.3" r="12.6"/>
<circle cx="1425.7" cy="1091.1" r="12.6"/>
<circle cx="1464.2" cy="1058.3" r="12.6"/>
<circle cx="1430.2" cy="1044.0" r="12.6"/>
<circle cx="1494.9" cy="937.4" r="12.6"/>
<circle cx="1479.8" cy="954.8" r="12.6"/>
<circle cx="1458.9" cy="919.1" r="12.6"/>
<circle cx="1504.5" cy="992.8" r="12.6"/>
<circle cx="1502.2" cy="982.8" r="12.6"/>
<circle cx="1503.0" cy="999.0" r="12.6"/>
<circle cx="1430.4" cy="1007.9" r="12.6"/>
<circle cx="1482.0" cy="1046.5" r="12.6"/>
<circle cx="1484.0" cy="1039.8" r="12.6"/>
<circle cx="1473.9" cy="971.9" r="12.6"/>
<circle cx="1424.9" cy="1029.2" r="12.6"/>
<circle cx="1500.3" cy="1056.4" r="12.6"/>
<circle cx="1460.0" cy="925.9" r="12.6"/>
<circle cx="1473.0" cy="1108.5" r="12.6"/>
<circle cx="1491.2" cy="1105.0" r="12.6"/>
<circle cx="1446.4" cy="978.7" r="12.6"/>
<circle cx="1426.0" cy="975.7" r="12.6"/>
<circle cx="1500.2" cy="1007.3" r="12.6"/>
<circle cx="1446.1" cy="922.9" r="12.6"/>
<circle cx="1427.0" cy="944.3" r="12.6"/>
<circle cx="1434.9" cy="1036.2" r="12.6"/>
<circle cx="1506.2" cy="1057.0" r="12.6"/>
<circle cx="1485.0" cy="1009.9" r="12.6"/>
<circle cx="1441.0" cy="922.2" r="12.6"/>
<circle cx="1435.8" cy="1049.8" r="12.6"/>
<circle cx="1498.1" cy="1054.7" r="12.6"/>
<circle cx="1478.8" cy="958.0" r="12.6"/>
<circle cx="1472.0" cy="1044.0" r="12.6"/>
<circle cx="1434.5" cy="939.5" r="12.6"/>
<circle cx="1457.9" cy="1027.9" r="12.6"/>
<circle cx="1502.2" cy="1038.2" r="12.6"/>
<circle cx="1423.9" cy="963.4" r="12.6"/>
<circle cx="1458.4" cy="1018.1" r="12.6"/>
<circle cx="1428.3" cy="956.0" r="12.6"/>
<circle cx="1506.4" cy="1039.3" r="12.6"/>
<circle cx="1432.3" cy="1034.3" r="12.6"/>
<circle cx="1502.8" cy="952.7" r="12.6"/>
<circle cx="1493.4" cy="1043.8" r="12.6"/>
<circle cx="1484.3" cy="943.3" r="12.6"/>
<circle cx="1427.1" cy="1070.1" r="12.6"/>
<circle cx="1481.3" cy="974.8" r="12.6"/>
<circle cx="1464.5" cy="929.7" r="12.6"/>
<circle cx="1464.4" cy="1014.2" r="12.6"/>
<circle cx="1435.7" cy="1003.9" r="12.6"/>
<circle cx="1466.1" cy="1015.7" r="12.6"/>
<circle cx="1490.2" cy="1054.5" r="12.6"/>
<circle cx="1434.5" cy="1066.3" r="12.6"/>
<circle cx="1496.3" cy="1008.2" r="12.6"/>
<circle cx="1458.5" cy="1045.0" r="12.6"/>
<circle cx="1445.7" cy="975.3" r="12.6"/>
<circle cx="1443.5" cy="1053.8" r="12.6"/>
<circle cx="1461.8" cy="986.0" r="12.6"/>
<circle cx="1477.3" cy="1035.1" r="12.6"/>
<circle cx="1470.9" cy="1002.7" r="12.6"/>
<circle cx="1497.5" cy="967.4" r="12.6"/>
<circle cx="1466.1" cy="1035.2" r="12.6"/>
<circle cx="1466.1" cy="1065.4" r="12.6"/>
<circle cx="1505.7" cy="1064.8" r="12.6"/>
<circle cx="1441.5" cy="933.2" r="12.6"/>
<circle cx="1425.0" cy="1077.8" r="12.6"/>
<circle cx="1450.9" cy="996.7" r="12.6"/>
<circle cx="1449.6" cy="936.5" r="12.6"/>
<circle cx="1433.9" cy="1105.4" r="12.6"/>
<circle cx="1458.3" cy="1006.1" r="12.6"/>
<circle cx="1426.5" cy="1032.2" r="12.6"/>
<circle cx="1500.0" cy="1004.6" r="12.6"/>
<circle cx="1463.8" cy="1058.1" r="12.6"/>
<circle cx="1496.5" cy="979.4" r="12.6"/>
<circle cx="1481.5" cy="962.8" r="12.6"/>
<circle cx="1484.2" cy="1082.1" r="12.6"/>
<circle cx="1486.6" cy="980.0" r="12.6"/>
<circle cx="1448.6" cy="995.3" r="12.6"/>
<circle cx="1484.1" cy="1032.7" r="12.6"/>
<circle cx="1440.7" cy="964.9" r="12.6"/>
<circle cx="1469.7" cy="986.6" r="12.6"/>
<circle cx="1473.0" cy="987.3" r="12.6"/>
<circle cx="1488.0" cy="993.7" r="12.6"/>
<circle cx="1437.5" cy="1056.9" r="12.6"/>
<circle cx="1452.2" cy="1073.8" r="12.6"/>
<circle cx="1492.0" cy="1042.5" r="12.6"/>
<circle cx="1490.4" cy="1079.1" r="12.6"/>
<circle cx="1504.8" cy="1019.3" r="12.6"/>
<circle cx="1433.4" cy="1075.3" r="12.6"/>
<circle cx="1441.0" cy="1086.9" r="12.6"/>
<circle cx="1432.5" cy="1046.7" r="12.6"/>
<circle cx="1483.7" cy="1021.0" r="12.6"/>
<circle cx="1485.5" cy="979.5" r="12.6"/>
<circle cx="1477.4" cy="954.6" r="12.6"/>
<circle cx="1488.3" cy="961.6" r="12.6"/>
<circle cx="1466.4" cy="977.1" r="12.6"/>
<circle cx="1470.3" cy="1070.5" r="12.6"/>
<circle cx="1500.0" cy="926.1" r="12.6"/>
<circle cx="1477.4" cy="1059.5" r="12.6"/>
<circle cx="1478.0" cy="1004.0" r="12.6"/>
<circle cx="1472.5" cy="973.7" r="12.6"/>
<circle cx="1464.6" cy="1026.1" r="12.6"/>
<circle cx="1486.4" cy="1028.9" r="12.6"/>
<circle cx="1471.1" cy="1015.2" r="12.6"/>
<circle cx="1434.3" cy="994.9" r="12.6"/>
<circle cx="1458.9" cy="1044.4" r="12.6"/>
<circle cx="1458.6" cy="984.1" r="12.6"/>
<circle cx="1459.5" cy="998.0" r="12.6"/>
<circle cx="1470.2" cy="997.4" r="12.6"/>
<circle cx="1453.6" cy="1016.2" r="12.6"/>
<circle cx="1456.1" cy="1069.0" r="12.6"/>
<circle cx="1459.0" cy="1071.5" r="12.6"/>
<circle cx="1454.4" cy="998.3" r="12.6"/>
<circle cx="1504.3" cy="952.1" r="12.6"/>
<circle cx="1431.1" cy="977.5" r="12.6"/>
<circle cx="1425.0" cy="1011.6" r="12.6"/>
<circle cx="1483.5" cy="1070.2" r="12.6"/>
<circle cx="1456.4" cy="953.3" r="12.6"/>
<circle cx="1460.9" cy="1012.0" r="12.6"/>
<circle cx="1472.7" cy="1013.6" r="12.6"/>
<circle cx="1454.1" cy="1023.4" r="12.6"/>
<circle cx="1443.5" cy="1037.6" r="12.6"/>
<circle cx="1424.9" cy="996.3" r="12.6"/>
<circle cx="1496.1" cy="963.6" r="12.6"/>
<circle cx="1501.5" cy="995.6" r="12.6"/>
<circle cx="1447.3" cy="1005.2" r="12.6"/>
<circle cx="1462.2" cy="1054.7" r="12.6"/>
<circle cx="1450.5" cy="959.2" r="12.6"/>
<circle cx="1428.4" cy="1014.8" r="12.6"/>
<circle cx="1497.7" cy="1032.0" r="12.6"/>
<circle cx="1493.0" cy="1055.4" r="12.6"/>
<circle cx="1443.6" cy="1053.7" r="12.6"/>
<circle cx="1444.8" cy="1096.1" r="12.6"/>
<circle cx="1481.5" cy="929.2" r="12.6"/>
<circle cx="1489.7" cy="978.9" r="12.6"/>
<circle cx="1462.6" cy="960.8" r="12.6"/>
<circle cx="1455.8" cy="944.1" r="12.6"/>
<circle cx="1443.0" cy="1035.0" r="12.6"/>
<circle cx="1489.9" cy="944.2" r="12.6"/>
<circle cx="1495.3" cy="928.9" r="12.6"/>
<circle cx="1494.8" cy="974.8" r="12.6"/>
<circle cx="1433.1" cy="948.5" r="12.6"/>
<circle cx="1472.9" cy="999.5" r="12.6"/>
<circle cx="1505.4" cy="1008.8" r="12.6"/>
<circle cx="1483.0" cy="1005.8" r="12.6"/>
<circle cx="1461.7" cy="1029.8" r="12.6"/>
<circle cx="1435.6" cy="945.7" r="12.6"/>
<circle cx="1428.6" cy="992.3" r="12.6"/>
<circle cx="1484.3" cy="996.6" r="12.6"/>
<circle cx="1429.3" cy="1049.4" r="12.6"/>
<circle cx="1490.7" cy="1025.9" r="12.6"/>
<circle cx="1478.8" cy="982.5" r="12.6"/>
<circle cx="1462.9" cy="998.1" r="12.6"/>
<circle cx="1497.6" cy="1022.3" r="12.6"/>
<circle cx="1501.0" cy="940.9" r="12.6"/>
<circle cx="1474.8" cy="1029.4" r="12.6"/>
<circle cx="1431.9" cy="1021.3" r="12.6"/>
<circle cx="1472.5" cy="948.3" r="12.6"/>
<circle cx="1458.5" cy="1007.4" r="12.6"/>
<circle cx="1444.3" cy="981.6" r="12.6"/>
<circle cx="1500.7" cy="1006.9" r="12.6"/>
<circle cx="1484.2" cy="989.0" r="12.6"/>
<circle cx="1433.7" cy="1068.4" r="12.6"/>
<circle cx="1442.6" cy="985.7" r="12.6"/>
<circle cx="1452.0" cy="1019.2" r="12.6"/>
<circle cx="1471.2" cy="978.1" r="12.6"/>
<circle cx="1450.6" cy="916.3" r="12.6"/>
<circle cx="1460.1" cy="941.2" r="12.6"/>
<circle cx="1491.1" cy="923.5" r="12.6"/>
<circle cx="1438.7" cy="1058.0" r="12.6"/>
<circle cx="1483.4" cy="1021.6" r="12.6"/>
<circle cx="1451.0" cy="998.4" r="12.6"/>
<circle cx="1502.0" cy="988.8" r="12.6"/>
<circle cx="1502.6" cy="919.6" r="12.6"/>
<circle cx="1450.8" cy="936.7" r="12.6"/>
<circle cx="1473.9" cy="1052.9" r="12.6"/>
<circle cx="1432.8" cy="934.4" r="12.6"/>
<circle cx="1457.7" cy="998.5" r="12.6"/>
<circle cx="1475.3" cy="962.4" r="12.6"/>
<circle cx="1476.6" cy="1052.5" r="12.6"/>
<circle cx="1452.0" cy="947.8" r="12.6"/>
<circle cx="1426.4" cy="981.9" r="12.6"/>
<circle cx="1433.9" cy="1047.5" r="12.6"/>
<circle cx="1470.1" cy="999.5" r="12.6"/>
<circle cx="1437.8" cy="1026.6" r="12.6"/>
<circle cx="1449.0" cy="979.1" r="12.6"/>
<circle cx="1474.9" cy="940.4" r="12.6"/>
<circle cx="1498.4" cy="988.3" r="12.6"/>
<circle cx="1466.4" cy="1068.4" r="12.6"/>
<circle cx="1444.7" cy="994.4" r="12.6"/>
<circle cx="1472.2" cy="1025.4" r="12.6"/>
<circle cx="1446.5" cy="1034.4" r="12.6"/>
<circle cx="1488.5" cy="986.9" r="12.6"/>
<circle cx="1436.6" cy="975.3" r="12.6"/>
<circle cx="1445.3" cy="964.2" r="12.6"/>
<circle cx="1460.0" cy="1009.3" r="12.6"/>
<circle cx="1499.0" cy="1095.7" r="12.6"/>
<circle cx="1437.3" cy="1026.1" r="12.6"/>
<circle cx="1439.6" cy="1028.7" r="12.6"/>
<circle cx="1434.5" cy="1097.7" r="12.6"/>
<circle cx="1441.3" cy="1066.6" r="12.6"/>
<circle cx="1451.2" cy="967.1" r="12.6"/>
<circle cx="1456.4" cy="1056.5" r="12.6"/>
<circle cx="1486.7" cy="1057.3" r="12.6"/>
<circle cx="1457.1" cy="1055.6" r="12.6"/>
<circle cx="1463.0" cy="1042.2" r="12.6"/>
<circle cx="1456.5" cy="996.9" r="12.6"/>
<circle cx="1487.9" cy="1002.8" r="12.6"/>
<circle cx="1498.6" cy="1006.1" r="12.6"/>
<circle cx="1458.9" cy="1061.1" r="12.6"/>
<circle cx="1500.1" cy="1047.2" r="12.6"/>
<circle cx="1444.4" cy="1059.3" r="12.6"/>
<circle cx="1504.8" cy="1038.7" r="12.6"/>
<circle cx="1467.2" cy="1089.8" r="12.6"/>
<circle cx="1480.2" cy="1004.4" r="12.6"/>
<circle cx="1455.3" cy="1055.0" r="12.6"/>
<circle cx="1446.1" cy="948.9" r="12.6"/>
<circle cx="1434.8" cy="1074.1" r="12.6"/>
<circle cx="1497.1" cy="978.9" r="12.6"/>
<circle cx="1453.4" cy="1068.4" r="12.6"/>
<circle cx="1481.6" cy="1093.6" r="12.6"/>
<circle cx="1461.8" cy="1037.5" r="12.6"/>
<circle cx="1467.3" cy="1060.2" r="12.6"/>
<circle cx="1440.8" cy="1004.2" r="12.6"/>
<circle cx="1438.3" cy="1022.3" r="12.6"/>
<circle cx="1451.5" cy="945.4" r="12.6"/>
<circle cx="1480.2" cy="1005.6" r="12.6"/>
<circle cx="1468.7" cy="965.3" r="12.6"/>
<circle cx="1423.8" cy="1022.3" r="12.6"/>
<circle cx="1482.6" cy="1029.3" r="12.6"/>
<circle cx="1459.6" cy="1020.9" r="12.6"/>
<circle cx="1429.3" cy="917.7" r="12.6"/>
<circle cx="1445.2" cy="936.7" r="12.6"/>
<circle cx="1441.2" cy="1037.3" r="12.6"/>
<circle cx="1491.9" cy="1038.2" r="12.6"/>
<circle cx="1469.3" cy="983.7" r="12.6"/>
<circle cx="1450.7" cy="924.8" r="12.6"/>
<circle cx="1444.2" cy="1022.1" r="12.6"/>
<circle cx="1447.8" cy="1013.0" r="12.6"/>
<circle cx="1446.8" cy="1053.9" r="12.6"/>
<circle cx="1452.3" cy="1025.1" r="12.6"/>
<circle cx="1489.2" cy="994.7" r="12.6"/>
<circle cx="1489.0" cy="1029.3" r="12.6"/>
<circle cx="1481.5" cy="914.6" r="12.6"/>
<circle cx="1497.0" cy="1014.6" r="12.6"/>
<circle cx="1477.9" cy="1050.8" r="12.6"/>
<circle cx="1433.0" cy="965.8" r="12.6"/>
<circle cx="1427.3" cy="984.5" r="12.6"/>
<circle cx="1437.2" cy="1042.0" r="12.6"/>
<circle cx="1445.0" cy="1056.5" r="12.6"/>
<circle cx="1467.4" cy="962.8" r="12.6"/>
<circle cx="1491.8" cy="943.5" r="12.6"/>
<circle cx="1472.2" cy="1029.1" r="12.6"/>
<circle cx="1459.3" cy="1026.3" r="12.6"/>
<circle cx="1443.7" cy="994.1" r="12.6"/>
<circle cx="1505.1" cy="915.0" r="12.6"/>
<circle cx="1486.1" cy="996.1" r="12.6"/>
<circle cx="1451.9" cy="1062.6" r="12.6"/>
<circle cx="1427.4" cy="1076.0" r="12.6"/>
<circle cx="1505.1" cy="989.1" r="12.6"/>
<circle cx="1444.9" cy="1064.3" r="12.6"/>
<circle cx="1494.0" cy="1045.3" r="12.6"/>
<circle cx="1433.3" cy="1002.1" r="12.6"/>
<circle cx="1477.8" cy="948.0" r="12.6"/>
<circle cx="1453.2" cy="996.3" r="12.6"/>
<circle cx="1497.4" cy="1013.9" r="12.6"/>
<circle cx="1448.3" cy="960.6" r="12.6"/>
<circle cx="1432.0" cy="972.8" r="12.6"/>
<circle cx="1440.1" cy="997.3" r="12.6"/>
<circle cx="1490.5" cy="921.0" r="12.6"/>
<circle cx="1504.8" cy="978.7" r="12.6"/>
<circle cx="1477.0" cy="1059.8" r="12.6"/>
<circle cx="1480.2" cy="1013.6" r="12.6"/>
<circle cx="1447.0" cy="1045.2" r="12.6"/>
<circle cx="1446.2" cy="1043.6" r="12.6"/>
<circle cx="1430.8" cy="1091.6" r="12.6"/>
<circle cx="1505.3" cy="956.3" r="12.6"/>
<circle cx="1427.2" cy="951.5" r="12.6"/>
<circle cx="1474.4" cy="978.7" r="12.6"/>
<circle cx="1452.6" cy="1045.5" r="12.6"/>
<circle cx="1439.1" cy="991.8" r="12.6"/>
<circle cx="1459.8" cy="997.7" r="12.6"/>
<circle cx="1500.9" cy="1009.2" r="12.6"/>
<circle cx="1444.2" cy="1045.3" r="12.6"/>
<circle cx="1437.3" cy="1072.9" r="12.6"/>
<circle cx="1475.8" cy="1006.2" r="12.6"/>
<circle cx="1478.1" cy="1008.3" r="12.6"/>
<circle cx="1466.0" cy="1048.5" r="12.6"/>
<circle cx="1438.5" cy="1071.4" r="12.6"/>
<circle cx="1496.2" cy="976.1" r="12.6"/>
<circle cx="1432.8" cy="1028.0" r="12.6"/>
<circle cx="1438.1" cy="981.2" r="12.6"/>
<circle cx="1443.7" cy="985.0" r="12.6"/>
<circle cx="1466.2" cy="999.2" r="12.6"/>
<circle cx="1463.1" cy="1054.7" r="12.6"/>
<circle cx="1469.5" cy="987.7" r="12.6"/>
<circle cx="1483.9" cy="912.7" r="12.6"/>
<circle cx="1497.8" cy="982.4" r="12.6"/>
<circle cx="1462.5" cy="1008.1" r="12.6"/>
<circle cx="1427.1" cy="986.4" r="12.6"/>
<circle cx="1492.6" cy="1029.0" r="12.6"/>
<circle cx="1425.1" cy="967.2" r="12.6"/>
<circle cx="1450.0" cy="1012.3" r="12.6"/>
<circle cx="1435.5" cy="1044.2" r="12.6"/>
<circle cx="1473.6" cy="1017.8" r="12.6"/>
<circle cx="1488.5" cy="1067.4" r="12.6"/>
<circle cx="1434.3" cy="1013.7" r="12.6"/>
<circle cx="1448.0" cy="969.8" r="12.6"/>
<circle cx="1494.2" cy="1053.0" r="12.6"/>
<circle cx="1480.8" cy="1008.0" r="12.6"/>
<circle cx="1432.6" cy="954.4" r="12.6"/>
<circle cx="1480.6" cy="983.2" r="12.6"/>
<circle cx="1489.5" cy="983.5" r="12.6"/>
<circle cx="1457.5" cy="1057.9" r="12.6"/>
<circle cx="1436.5" cy="1042.3" r="12.6"/>
<circle cx="1478.3" cy="1038.4" r="12.6"/>
<circle cx="1450.1" cy="966.3" r="12.6"/>
<circle cx="1434.7" cy="983.8" r="12.6"/>
<circle cx="1437.3" cy="1072.1" r="12.6"/>
<circle cx="1457.0" cy="979.0" r="12.6"/>
<circle cx="1434.1" cy="1009.0" r="12.6"/>
<circle cx="1455.6" cy="965.7" r="12.6"/>
<circle cx="1469.4" cy="999.4" r="12.6"/>
<circle cx="1469.4" cy="948.5" r="12.6"/>
<circle cx="1457.1" cy="1081.7" r="12.6"/>
<circle cx="1490.0" cy="997.0" r="12.6"/>
<circle cx="1430.9" cy="1065.8" r="12.6"/>
<circle cx="1451.0" cy="999.5" r="12.6"/>
<circle cx="1501.1" cy="1030.5" r="12.6"/>
<circle cx="1495.3" cy="987.5" r="12.6"/>
<circle cx="1500.0" cy="986.0" r="12.6"/>
<circle cx="1487.1" cy="978.3" r="12.6"/>
<circle cx="1468.1" cy="1036.3" r="12.6"/>
<circle cx="1489.0" cy="1033.6" r="12.6"/>
<circle cx="1471.1" cy="1092.9" r="12.6"/>
<circle cx="1433.4" cy="1028.6" r="12.6"/>
<circle cx="1444.8" cy="976.1" r="12.6"/>
<circle cx="1431.7" cy="976.7" r="12.6"/>
<circle cx="1496.2" cy="1031.8" r="12.6"/>
<circle cx="1450.3" cy="936.3" r="12.6"/>
<circle cx="1457.4" cy="974.0" r="12.6"/>
<circle cx="1468.3" cy="960.5" r="12.6"/>
<circle cx="1432.0" cy="987.1" r="12.6"/>
<circle cx="1482.2" cy="1007.4" r="12.6"/>
<circle cx="1489.6" cy="1021.1" r="12.6"/>
<circle cx="1489.7" cy="1071.1" r="12.6"/>
<circle cx="1496.7" cy="954.3" r="12.6"/>
<circle cx="1449.9" cy="930.6" r="12.6"/>
<circle cx="1435.7" cy="985.4" r="12.6"/>
<circle cx="1486.8" cy="1013.0" r="12.6"/>
<circle cx="1481.1" cy="1051.7" r="12.6"/>
<circle cx="1454.4" cy="1013.6" r="12.6"/>
<circle cx="1452.1" cy="986.0" r="12.6"/>
<circle cx="1436.4" cy="983.2" r="12.6"/>
<circle cx="1492.6" cy="1034.3" r="12.6"/>
<circle cx="1461.8" cy="968.5" r="12.6"/>
<circle cx="1491.0" cy="1017.9" r="12.6"/>
<circle cx="1451.8" cy="979.4" r="12.6"/>
<circle cx="1450.3" cy="992.0" r="12.6"/>
<circle cx="1466.2" cy="1043.8" r="12.6"/>
<circle cx="1485.5" cy="1000.8" r="12.6"/>
<circle cx="1496.9" cy="1003.0" r="12.6"/>
<circle cx="1452.9" cy="986.6" r="12.6"/>
<circle cx="1481.2" cy="917.7" r="12.6"/>
<circle cx="1457.1" cy="1046.5" r="12.6"/>
<circle cx="1495.1" cy="1006.0" r="12.6"/>
<circle cx="1486.7" cy="1050.1" r="12.6"/>
<circle cx="1469.7" cy="1040.3" r="12.6"/>
<circle cx="1453.7" cy="1034.0" r="12.6"/>
<circle cx="1446.3" cy="1013.4" r="12.6"/>
<circle cx="1497.1" cy="1021.6" r="12.6"/>
<circle cx="1490.1" cy="1008.2" r="12.6"/>
<circle cx="1448.9" cy="938.8" r="12.6"/>
<circle cx="1430.6" cy="1047.0" r="12.6"/>
<circle cx="1439.8" cy="1034.7" r="12.6"/>
<circle cx="1503.6" cy="1025.7" r="12.6"/>
<circle cx="1426.9" cy="1000.1" r="12.6"/>
<circle cx="1490.8" cy="1024.8" r="12.6"/>
<circle cx="1467.5" cy="984.4" r="12.6"/>
<circle cx="1469.6" cy="1041.9" r="12.6"/>
<circle cx="1468.4" cy="1033.8" r="12.6"/>
<circle cx="1457.7" cy="1056.9" r="12.6"/>
<circle cx="1469.9" cy="1080.3" r="12.6"/>
<circle cx="1431.1" cy="999.6" r="12.6"/>
<circle cx="1499.9" cy="1049.0" r="12.6"/>
<circle cx="1432.1" cy="1083.6" r="12.6"/>
<circle cx="1435.1" cy="925.2" r="12.6"/>
<circle cx="1479.4" cy="1036.2" r="12.6"/>
<circle cx="1476.8" cy="943.8" r="12.6"/>
<circle cx="1490.6" cy="1070.4" r="12.6"/>
<circle cx="1481.1" cy="1057.7" r="12.6"/>
<circle cx="1500.8" cy="1021.9" r="12.6"/>
<circle cx="1427.9" cy="1083.5" r="12.6"/>
<circle cx="1424.5" cy="1051.2" r="12.6"/>
<circle cx="1443.3" cy="1068.4" r="12.6"/>
<circle cx="1488.2" cy="1077.4" r="12.6"/>
<circle cx="1436.3" cy="1050.3" r="12.6"/>
<circle cx="1467.7" cy="956.6" r="12.6"/>
<circle cx="1487.5" cy="1013.5" r="12.6"/>
<circle cx="1436.6" cy="983.0" r="12.6"/>
<circle cx="1467.4" cy="981.1" r="12.6"/>
<circle cx="1498.4" cy="1042.9" r="12.6"/>
<circle cx="1485.6" cy="1016.4" r="12.6"/>
<circle cx="1456.6" cy="1012.9" r="12.6"/>
<circle cx="1463.4" cy="982.3" r="12.6"/>
<circle cx="1446.7" cy="930.8" r="12.6"/>
<circle cx="1503.3" cy="1038.5" r="12.6"/>
<circle cx="1488.6" cy="987.0" r="12.6"/>
<circle cx="1480.1" cy="955.3" r="12.6"/>
<circle cx="1448.8" cy="1021.9" r="12.6"/>
<circle cx="1484.3" cy="1036.6" r="12.6"/>
<circle cx="1464.0" cy="1066.7" r="12.6"/>
<circle cx="1489.9" cy="1047.0" r="12.6"/>
<circle cx="1453.8" cy="998.9" r="12.6"/>
<circle cx="1496.8" cy="1101.6" r="12.6"/>
<circle cx="1480.4" cy="1013.4" r="12.6"/>
<circle cx="1461.0" cy="989.2" r="12.6"/>
<circle cx="1470.3" cy="949.8" r="12.6"/>
<circle cx="1490.4" cy="1019.0" r="12.6"/>
<circle cx="1467.5" cy="1012.2" r="12.6"/>
<circle cx="1503.3" cy="951.6" r="12.6"/>
<circle cx="1424.2" cy="1064.7" r="12.6"/>
<circle cx="1498.1" cy="1019.0" r="12.6"/>
<circle cx="1482.9" cy="1067.4" r="12.6"/>
<circle cx="1464.2" cy="1056.7" r="12.6"/>
<circle cx="1494.1" cy="1026.0" r="12.6"/>
<circle cx="1436.0" cy="986.0" r="12.6"/>
<circle cx="1451.6" cy="1049.6" r="12.6"/>
<circle cx="1482.9" cy="1021.6" r="12.6"/>
<circle cx="1491.9" cy="1085.2" r="12.6"/>
<circle cx="1454.6" cy="961.4" r="12.6"/>
<circle cx="1506.1" cy="962.3" r="12.6"/>
<circle cx="1477.4" cy="1009.4" r="12.6"/>
<circle cx="1427.4" cy="971.7" r="12.6"/>
<circle cx="1433.8" cy="985.9" r="12.6"/>
<circle cx="1429.9" cy="1055.8" r="12.6"/>
<circle cx="1470.9" cy="956.5" r="12.6"/>
<circle cx="1450.3" cy="977.5" r="12.6"/>
<circle cx="1445.3" cy="1050.7" r="12.6"/>
<circle cx="1460.8" cy="993.9" r="12.6"/>
<circle cx="1430.1" cy="990.1" r="12.6"/>
<circle cx="1499.0" cy="1013.9" r="12.6"/>
<circle cx="1493.2" cy="999.0" r="12.6"/>
<circle cx="1470.0" cy="1077.3" r="12.6"/>
<circle cx="1460.5" cy="947.5" r="12.6"/>
<circle cx="1449.2" cy="1043.5" r="12.6"/>
<circle cx="1473.6" cy="1003.8" r="12.6"/>
<circle cx="1452.4" cy="960.8" r="12.6"/>
<circle cx="1504.6" cy="1084.1" r="12.6"/>
<circle cx="1503.0" cy="985.4" r="12.6"/>
<circle cx="1483.9" cy="1106.7" r="12.6"/>
<circle cx="1492.2" cy="1036.8" r="12.6"/>
<circle cx="1429.8" cy="938.1" r="12.6"/>
<circle cx="1433.9" cy="1053.8" r="12.6"/>
<circle cx="1452.3" cy="1042.7" r="12.6"/>
<circle cx="1434.1" cy="976.7" r="12.6"/>
<circle cx="1458.7" cy="979.0" r="12.6"/>
<circle cx="1505.4" cy="1045.4" r="12.6"/>
<circle cx="1492.9" cy="1069.3" r="12.6"/>
<circle cx="1503.2" cy="1020.6" r="12.6"/>
<circle cx="1442.0" cy="985.4" r="12.6"/>
<circle cx="1442.0" cy="990.6" r="12.6"/>
<circle cx="1425.5" cy="994.6" r="12.6"/>
<circle cx="1446.3" cy="1016.0" r="12.6"/>
<circle cx="1428.3" cy="998.6" r="12.6"/>
<circle cx="1467.4" cy="1040.6" r="12.6"/>
<circle cx="1448.5" cy="990.2" r="12.6"/>
<circle cx="1479.5" cy="967.5" r="12.6"/>
<circle cx="1470.2" cy="1085.9" r="12.6"/>
<circle cx="1473.2" cy="999.7" r="12.6"/>
<circle cx="1448.5" cy="967.0" r="12.6"/>
<circle cx="1484.6" cy="1015.3" r="12.6"/>
<circle cx="1480.8" cy="959.4" r="12.6"/>
<circle cx="1482.9" cy="994.8" r="12.6"/>
<circle cx="1462.7" cy="1000.4" r="12.6"/>
<circle cx="1462.1" cy="972.3" r="12.6"/>
<circle cx="1447.3" cy="1053.4" r="12.6"/>
<circle cx="1426.9" cy="1095.9" r="12.6"/>
<circle cx="1462.3" cy="972.0" r="12.6"/>
<circle cx="1474.7" cy="915.1" r="12.6"/>
<circle cx="1439.0" cy="956.3" r="12.6"/>
<circle cx="1495.0" cy="930.0" r="12.6"/>
<circle cx="1496.6" cy="1015.0" r="12.6"/>
<circle cx="1494.4" cy="1075.4" r="12.6"/>
<circle cx="1491.3" cy="962.1" r="12.6"/>
<circle cx="1464.1" cy="1079.1" r="12.6"/>
<circle cx="1438.2" cy="1059.7" r="12.6"/>
<circle cx="1446.1" cy="1030.9" r="12.6"/>
<circle cx="1484.8" cy="932.0" r="12.6"/>
<circle cx="1505.3" cy="1050.0" r="12.6"/>
<circle cx="1432.8" cy="1055.5" r="12.6"/>
<circle cx="1424.1" cy="1010.9" r="12.6"/>
<circle cx="1452.9" cy="999.0" r="12.6"/>
<circle cx="1452.6" cy="1028.5" r="12.6"/>
<circle cx="1473.2" cy="966.7" r="12.6"/>
<circle cx="1432.9" cy="1010.7" r="12.6"/>
<circle cx="1493.6" cy="1012.3" r="12.6"/>
<circle cx="1451.7" cy="986.4" r="12.6"/>
<circle cx="1499.0" cy="1089.6" r="12.6"/>
<circle cx="1450.9" cy="1033.8" r="12.6"/>
<circle cx="1448.9" cy="1073.1" r="12.6"/>
<circle cx="1438.2" cy="946.9" r="12.6"/>
<circle cx="1503.8" cy="1034.6" r="12.6"/>
<circle cx="1472.5" cy="1004.0" r="12.6"/>
<circle cx="1492.1" cy="1041.2" r="12.6"/>
<circle cx="1428.8" cy="920.6" r="12.6"/>
<circle cx="1468.7" cy="996.5" r="12.6"/>
<circle cx="1484.4" cy="1050.5" r="12.6"/>
<circle cx="1505.3" cy="1041.4" r="12.6"/>
<circle cx="1501.3" cy="1025.3" r="12.6"/>
<circle cx="1432.2" cy="1079.0" r="12.6"/>
<circle cx="1454.6" cy="1059.8" r="12.6"/>
<circle cx="1506.5" cy="1087.0" r="12.6"/>
<circle cx="1468.0" cy="1068.7" r="12.6"/>
<circle cx="1503.0" cy="974.2" r="12.6"/>
<circle cx="1444.6" cy="945.9" r="12.6"/>
<circle cx="1425.7" cy="1025.0" r="12.6"/>
<circle cx="1502.1" cy="979.0" r="12.6"/>
<circle cx="1445.5" cy="972.2" r="12.6"/>
<circle cx="1470.1" cy="990.6" r="12.6"/>
<circle cx="1453.5" cy="998.7" r="12.6"/>
<circle cx="1471.5" cy="986.7" r="12.6"/>
<circle cx="1501.1" cy="962.3" r="12.6"/>
<circle cx="1502.2" cy="1027.8" r="12.6"/>
<circle cx="1496.4" cy="961.0" r="12.6"/>
<circle cx="1444.9" cy="1021.4" r="12.6"/>
<circle cx="1491.7" cy="964.9" r="12.6"/>
<circle cx="1425.1" cy="1026.1" r="12.6"/>
<circle cx="1458.2" cy="1037.0" r="12.6"/>
<circle cx="1502.0" cy="1024.8" r="12.6"/>
<circle cx="1444.7" cy="932.3" r="12.6"/>
<circle cx="1454.1" cy="1040.5" r="12.6"/>
<circle cx="1471.9" cy="1000.6" r="12.6"/>
<circle cx="1443.2" cy="1063.2" r="12.6"/>
<circle cx="1482.4" cy="1073.0" r="12.6"/>
<circle cx="1477.8" cy="937.4" r="12.6"/>
<circle cx="1431.5" cy="1010.1" r="12.6"/>
<circle cx="1500.0" cy="1000.7" r="12.6"/>
<circle cx="1429.5" cy="1037.7" r="12.6"/>
<circle cx="1481.4" cy="994.3" r="12.6"/>
<circle cx="1452.5" cy="1067.2" r="12.6"/>
<circle cx="1435.5" cy="959.3" r="12.6"/>
<circle cx="1430.1" cy="1009.8" r="12.6"/>
<circle cx="1506.4" cy="1040.5" r="12.6"/>
<circle cx="1490.0" cy="976.3" r="12.6"/>
<circle cx="1461.7" cy="978.8" r="12.6"/>
<circle cx="1489.6" cy="930.7" r="12.6"/>
<circle cx="1504.1" cy="996.2" r="12.6"/>
<circle cx="1500.5" cy="1027.5" r="12.6"/>
<circle cx="1467.8" cy="988.3" r="12.6"/>
<circle cx="1446.4" cy="1035.5" r="12.6"/>
<circle cx="1466.6" cy="1019.9" r="12.6"/>
<circle cx="1505.1" cy="1009.9" r="12.6"/>
<circle cx="1484.2" cy="1062.9" r="12.6"/>
<circle cx="1479.2" cy="961.3" r="12.6"/>
<circle cx="1493.6" cy="987.4" r="12.6"/>
<circle cx="1457.5" cy="1063.5" r="12.6"/>
<circle cx="1470.0" cy="978.0" r="12.6"/>
<circle cx="1494.0" cy="1109.5" r="12.6"/>
<circle cx="1440.1" cy="1003.5" r="12.6"/>
<circle cx="1494.9" cy="1036.0" r="12.6"/>
<circle cx="1425.6" cy="1038.2" r="12.6"/>
<circle cx="1468.2" cy="1086.4" r="12.6"/>
<circle cx="1471.3" cy="1069.3" r="12.6"/>
<circle cx="1435.7" cy="1041.0" r="12.6"/>
<circle cx="1500.1" cy="959.4" r="12.6"/>
<circle cx="1460.1" cy="1017.2" r="12.6"/>
<circle cx="1439.0" cy="976.8" r="12.6"/>
<circle cx="1457.8" cy="1014.7" r="12.6"/>
<circle cx="1472.7" cy="980.9" r="12.6"/>
<circle cx="1459.2" cy="1010.1" r="12.6"/>
<circle cx="1423.8" cy="991.0" r="12.6"/>
<circle cx="1431.3" cy="1096.7" r="12.6"/>
<circle cx="1482.8" cy="977.6" r="12.6"/>
<circle cx="1434.5" cy="938.6" r="12.6"/>
<circle cx="1444.8" cy="1051.5" r="12.6"/>
<circle cx="1490.6" cy="1013.0" r="12.6"/>
<circle cx="1495.1" cy="1073.3" r="12.6"/>
<circle cx="1496.8" cy="1076.4" r="12.6"/>
<circle cx="1438.1" cy="1038.1" r="12.6"/>
<circle cx="1424.0" cy="974.4" r="12.6"/>
<circle cx="1486.2" cy="1024.8" r="12.6"/>
<circle cx="1473.3" cy="962.1" r="12.6"/>
<circle cx="1453.9" cy="1089.0" r="12.6"/>
<circle cx="1425.1" cy="1050.7" r="12.6"/>
<circle cx="1459.4" cy="1064.5" r="12.6"/>
<circle cx="1443.3" cy="931.5" r="12.6"/>
<circle cx="1472.4" cy="1065.6" r="12.6"/>
<circle cx="1505.0" cy="1074.3" r="12.6"/>
<circle cx="1441.0" cy="933.2" r="12.6"/>
<circle cx="1429.8" cy="1087.1" r="12.6"/>
<circle cx="1481.2" cy="928.6" r="12.6"/>
<circle cx="1432.5" cy="993.4" r="12.6"/>
<circle cx="1442.1" cy="1054.1" r="12.6"/>
<circle cx="1460.1" cy="1017.8" r="12.6"/>
<circle cx="1505.4" cy="937.3" r="12.6"/>
<circle cx="1450.5" cy="970.3" r="12.6"/>
<circle cx="1449.8" cy="1059.1" r="12.6"/>
<circle cx="1463.0" cy="976.7" r="12.6"/>
<circle cx="1437.1" cy="1007.6" r="12.6"/>
<circle cx="1457.0" cy="1001.5" r="12.6"/>
<circle cx="1481.7" cy="1083.6" r="12.6"/>
<circle cx="1450.5" cy="963.5" r="12.6"/>
<circle cx="1489.7" cy="1011.9" r="12.6"/>
<circle cx="1438.9" cy="943.2" r="12.6"/>
<circle cx="1432.0" cy="988.1" r="12.6"/>
<circle cx="1475.7" cy="1043.4" r="12.6"/>
<circle cx="1461.2" cy="1014.5" r="12.6"/>
<circle cx="1499.8" cy="1000.8" r="12.6"/>
<circle cx="1432.3" cy="1103.9" r="12.6"/>
<circle cx="1485.5" cy="1109.2" r="12.6"/>
<circle cx="1479.2" cy="986.5" r="12.6"/>
<circle cx="1454.3" cy="1005.2" r="12.6"/>
<circle cx="1434.2" cy="1057.5" r="12.6"/>
<circle cx="1474.4" cy="986.7" r="12.6"/>
<circle cx="1486.5" cy="1026.7" r="12.6"/>
<circle cx="1462.8" cy="984.7" r="12.6"/>
<circle cx="1462.8" cy="1028.1" r="12.6"/>
<circle cx="1480.5" cy="981.9" r="12.6"/>
<circle cx="1474.2" cy="1029.6" r="12.6"/>
<circle cx="1458.7" cy="996.7" r="12.6"/>
<circle cx="1439.0" cy="974.8" r="12.6"/>
<circle cx="1462.1" cy="1000.8" r="12.6"/>
<circle cx="1469.2" cy="1024.1" r="12.6"/>
<circle cx="1498.0" cy="922.7" r="12.6"/>
<circle cx="1506.2" cy="980.8" r="12.6"/>
<circle cx="1469.8" cy="1089.0" r="12.6"/>
<circle cx="1450.9" cy="1067.3" r="12.6"/>
<circle cx="1442.1" cy="1019.0" r="12.6"/>
<circle cx="1475.9" cy="920.5" r="12.6"/>
<circle cx="1484.9" cy="1044.8" r="12.6"/>
<circle cx="1444.2" cy="1075.2" r="12.6"/>
<circle cx="1480.9" cy="1042.2" r="12.6"/>
<circle cx="1506.5" cy="1036.5" r="12.6"/>
<circle cx="1456.1" cy="1000.7" r="12.6"/>
<circle cx="1501.5" cy="949.0" r="12.6"/>
<circle cx="1459.8" cy="1074.3" r="12.6"/>
<circle cx="1477.7" cy="1054.4" r="12.6"/>
<circle cx="1495.5" cy="1042.2" r="12.6"/>
<circle cx="1440.5" cy="1023.8" r="12.6"/>
<circle cx="1452.3" cy="1018.0" r="12.6"/>
<circle cx="1505.3" cy="931.9" r="12.6"/>
<circle cx="1429.0" cy="1055.0" r="12.6"/>
<circle cx="1449.0" cy="1076.7" r="12.6"/>
<circle cx="1485.4" cy="1085.3" r="12.6"/>
<circle cx="1500.8" cy="1087.5" r="12.6"/>
<circle cx="1423.7" cy="1054.0" r="12.6"/>
<circle cx="1426.6" cy="1074.2" r="12.6"/>
<circle cx="1425.8" cy="1079.5" r="12.6"/>
<circle cx="1476.1" cy="1061.3" r="12.6"/>
<circle cx="1494.7" cy="1073.2" r="12.6"/>
<circle cx="1503.3" cy="1070.0" r="12.6"/>
<circle cx="1475.1" cy="1080.3" r="12.6"/>
<circle cx="1445.4" cy="1093.7" r="12.6"/>
<circle cx="1423.9" cy="1064.0" r="12.6"/>
<circle cx="1450.2" cy="1099.4" r="12.6"/>
<circle cx="1465.1" cy="1052.0" r="12.6"/>
<circle cx="1448.4" cy="1084.1" r="12.6"/>
<circle cx="1490.7" cy="1056.1" r="12.6"/>
<circle cx="1488.3" cy="1071.9" r="12.6"/>
<circle cx="1467.1" cy="1073.6" r="12.6"/>
<circle cx="1460.0" cy="1105.5" r="12.6"/>
<circle cx="1499.9" cy="1101.4" r="12.6"/>
<circle cx="1484.7" cy="1089.2" r="12.6"/>
<circle cx="1435.3" cy="1052.0" r="12.6"/>
<circle cx="1492.6" cy="1087.7" r="12.6"/>
<circle cx="1475.9" cy="1067.5" r="12.6"/>
<circle cx="1445.8" cy="1101.6" r="12.6"/>
<circle cx="1467.8" cy="1051.1" r="12.6"/>
<circle cx="1451.9" cy="1069.5" r="12.6"/>
<circle cx="1429.2" cy="1104.8" r="12.6"/>
<circle cx="1498.5" cy="1095.6" r="12.6"/>
<circle cx="1424.0" cy="1073.4" r="12.6"/>
<circle cx="1432.9" cy="1090.6" r="12.6"/>
<circle cx="1490.8" cy="1094.2" r="12.6"/>
<circle cx="1489.3" cy="1056.8" r="12.6"/>
<circle cx="1424.7" cy="1055.2" r="12.6"/>
<circle cx="1493.5" cy="1096.4" r="12.6"/>
<circle cx="1466.4" cy="1063.1" r="12.6"/>
<circle cx="1494.7" cy="1056.7" r="12.6"/>
<circle cx="1450.6" cy="1050.1" r="12.6"/>
<circle cx="1505.2" cy="1073.2" r="12.6"/>
<circle cx="1487.6" cy="1094.9" r="12.6"/>
<circle cx="1471.8" cy="1105.3" r="12.6"/>
<circle cx="1487.9" cy="1101.9" r="12.6"/>
<circle cx="1503.6" cy="1054.6" r="12.6"/>
<circle cx="1485.9" cy="1062.7" r="12.6"/>
<circle cx="1450.5" cy="1069.1" r="12.6"/>
<circle cx="1505.6" cy="1053.4" r="12.6"/>
<circle cx="1459.7" cy="1057.2" r="12.6"/>
<circle cx="1506.4" cy="1077.8" r="12.6"/>
<circle cx="1481.9" cy="1079.1" r="12.6"/>
<circle cx="1487.3" cy="1068.8" r="12.6"/>
<circle cx="1457.9" cy="1091.7" r="12.6"/>
<circle cx="1481.9" cy="1099.7" r="12.6"/>
<circle cx="1449.3" cy="1097.5" r="12.6"/>
<circle cx="1484.8" cy="1082.1" r="12.6"/>
<circle cx="1457.5" cy="1081.8" r="12.6"/>
<circle cx="1430.0" cy="1055.4" r="12.6"/>
<circle cx="1449.4" cy="1056.9" r="12.6"/>
<circle cx="1427.6" cy="1090.1" r="12.6"/>
<circle cx="1484.3" cy="1084.5" r="12.6"/>
<circle cx="1440.7" cy="1090.4" r="12.6"/>
<circle cx="1492.1" cy="1084.7" r="12.6"/>
<circle cx="1442.5" cy="1081.6" r="12.6"/>
<circle cx="1456.4" cy="1065.1" r="12.6"/>
<circle cx="1435.9" cy="1098.4" r="12.6"/>
<circle cx="1476.1" cy="1102.2" r="12.6"/>
<circle cx="1437.9" cy="1064.8" r="12.6"/>
<circle cx="1465.9" cy="1053.3" r="12.6"/>
<circle cx="1448.7" cy="1080.2" r="12.6"/>
<circle cx="1463.6" cy="1100.9" r="12.6"/>
<circle cx="1471.5" cy="1085.7" r="12.6"/>
<circle cx="1472.2" cy="1094.0" r="12.6"/>
<circle cx="1454.0" cy="1050.0" r="12.6"/>
<circle cx="1505.0" cy="1094.4" r="12.6"/>
<circle cx="1434.1" cy="1056.3" r="12.6"/>
<circle cx="1442.0" cy="1086.8" r="12.6"/>
<circle cx="1434.5" cy="915.8" r="12.6"/>
<circle cx="1464.6" cy="915.2" r="12.6"/>
<circle cx="1445.1" cy="930.3" r="12.6"/>
<circle cx="1440.6" cy="915.1" r="12.6"/>
<circle cx="1445.2" cy="924.8" r="12.6"/>
<circle cx="1450.5" cy="931.6" r="12.6"/>
<circle cx="1453.5" cy="928.0" r="12.6"/>
<circle cx="1425.2" cy="948.5" r="12.6"/>
<circle cx="1484.9" cy="934.7" r="12.6"/>
<circle cx="1423.8" cy="924.3" r="12.6"/>
<circle cx="1498.3" cy="933.3" r="12.6"/>
<circle cx="1440.6" cy="947.8" r="12.6"/>
<circle cx="1497.6" cy="919.9" r="12.6"/>
<circle cx="1465.2" cy="937.5" r="12.6"/>
<circle cx="1433.3" cy="927.8" r="12.6"/>
<circle cx="1474.9" cy="941.9" r="12.6"/>
<circle cx="1475.8" cy="939.8" r="12.6"/>
<circle cx="1455.0" cy="917.8" r="12.6"/>
<circle cx="1424.9" cy="948.5" r="12.6"/>
<circle cx="1495.4" cy="951.2" r="12.6"/>
<circle cx="1429.9" cy="945.8" r="12.6"/>
<circle cx="1437.9" cy="928.9" r="12.6"/>
<circle cx="1440.2" cy="949.4" r="12.6"/>
<circle cx="1491.6" cy="948.3" r="12.6"/>
<circle cx="1455.3" cy="952.4" r="12.6"/>
<circle cx="1445.2" cy="938.0" r="12.6"/>
<circle cx="1479.5" cy="924.3" r="12.6"/>
<circle cx="1455.3" cy="919.0" r="12.6"/>
<circle cx="1489.7" cy="922.4" r="12.6"/>
<circle cx="1434.9" cy="926.1" r="12.6"/>
<circle cx="1476.7" cy="940.5" r="12.6"/>
<circle cx="1467.1" cy="949.1" r="12.6"/>
<circle cx="1486.1" cy="923.4" r="12.6"/>
<circle cx="1468.0" cy="921.8" r="12.6"/>
<circle cx="1443.7" cy="920.9" r="12.6"/>
<circle cx="1430.0" cy="929.0" r="12.6"/>
<circle cx="1497.2" cy="941.2" r="12.6"/>
<circle cx="1430.9" cy="923.8" r="12.6"/>
<circle cx="1472.7" cy="936.2" r="12.6"/>
<circle cx="1425.8" cy="918.8" r="12.6"/>
<circle cx="1470.6" cy="906.6" r="12.6"/>
<circle cx="1430.3" cy="909.4" r="12.6"/>
<circle cx="1443.5" cy="906.4" r="12.6"/>
<circle cx="1467.6" cy="902.4" r="12.6"/>
<circle cx="1502.1" cy="903.3" r="12.6"/>
<circle cx="1458.7" cy="905.6" r="12.6"/>
<circle cx="1493.3" cy="912.8" r="12.6"/>
<circle cx="1487.5" cy="905.6" r="12.6"/>
<circle cx="1483.1" cy="907.2" r="12.6"/>
<circle cx="1503.2" cy="912.5" r="12.6"/>
<circle cx="1486.7" cy="900.5" r="12.6"/>
<circle cx="1470.8" cy="904.0" r="12.6"/>
<circle cx="1442.8" cy="909.5" r="12.6"/>
<circle cx="1442.0" cy="908.4" r="12.6"/>
<circle cx="1464.2" cy="903.8" r="12.6"/>
<circle cx="1482.3" cy="908.6" r="12.6"/>
<circle cx="1446.4" cy="881.5" r="12.6"/>
</g>
</g>
<g id="boxes" stroke="#333" stroke-width="3.6" fill="none">
<line x1="420.6" x2="420.6" y1="883.3" y2="964.9"/>
<line x1="420.6" x2="420.6" y1="1021.1" y2="1097.8"/>
<rect x="341.1" y="964.9" width="157.8" height="56.2" fill="#fff" fill-opacity="0.2"/>
<line x1="341.1" x2="498.9" y1="996.0" y2="996.0" stroke-width="7.5"/>
<line x1="942.85" x2="942.85" y1="923.0" y2="973.9"/>
<line x1="942.85" x2="942.85" y1="1025.0" y2="1078.0"/>
<rect x="863.3" y="973.9" width="158.5" height="51.1" fill="#fff" fill-opacity="0.2"/>
<line x1="863.3" x2="1021.8" y1="1005.0" y2="1005.0" stroke-width="7.5"/>
<line x1="1465.1" x2="1465.1" y1="837.8" y2="958.2"/>
<line x1="1465.1" x2="1465.1" y1="1041.8" y2="1138.0"/>
<rect x="1387.3" y="958.2" width="156.7" height="83.6" fill="#fff" fill-opacity="0.2"/>
<line x1="1387.3" x2="1544.0" y1="1005.1" y2="1005.1" stroke-width="7.5"/>
</g>
<g id="violins" stroke="#333" stroke-width="3.6" fill="#fff" fill-opacity="0.2" stroke-linejoin="round">
<path d="M416.2,882.8 C416.1,883.5 416.0,885.4 415.5,887.1 C415.0,888.9 414.2,891.0 413.2,893.3 C412.2,895.6 411.0,898.5 409.3,901.1 C407.6,903.7 405.4,906.3 403.1,908.9 C400.8,911.5 398.2,914.1 395.3,916.7 C392.4,919.3 389.4,921.8 386.0,924.4 C382.6,927.0 379.0,929.6 375.1,932.2 C371.2,934.8 367.0,937.4 362.6,940.0 C358.2,942.6 353.5,945.2 348.6,947.8 C343.7,950.4 337.6,953.3 333.1,955.6 C328.6,957.9 324.4,959.7 321.4,961.8 C318.4,963.9 316.6,965.9 315.2,968.0 C313.8,970.1 313.3,972.1 312.9,974.2 C312.5,976.3 313.0,978.3 312.6,980.4 C312.2,982.5 311.5,984.4 310.5,986.7 C309.5,989.0 308.0,991.8 306.6,994.4 C305.2,997.0 303.6,1000.0 302.0,1002.2 C300.4,1004.4 297.9,1006.1 297.3,1007.8 C296.7,1009.5 297.3,1010.7 298.6,1012.4 C299.9,1014.1 302.0,1016.0 304.9,1017.9 C307.8,1019.8 311.7,1022.0 315.8,1024.1 C319.9,1026.2 325.4,1028.2 329.8,1030.3 C334.2,1032.4 338.1,1034.3 342.2,1036.6 C346.3,1038.9 350.5,1041.7 354.6,1044.3 C358.8,1046.9 363.0,1049.5 367.1,1052.1 C371.2,1054.7 375.4,1057.2 379.5,1059.9 C383.6,1062.6 388.1,1065.4 392.0,1068.4 C395.9,1071.4 399.9,1074.7 402.9,1077.8 C405.9,1080.9 408.1,1084.0 409.9,1087.1 C411.7,1090.2 412.9,1093.3 413.8,1096.4 C414.8,1099.5 415.1,1102.7 415.6,1105.8 C416.1,1108.9 416.4,1111.7 416.6,1115.1 C416.8,1118.5 416.9,1124.4 416.9,1126.3 L424.3,1126.3 C424.4,1124.4 424.4,1118.5 424.6,1115.1 C424.8,1111.7 425.1,1108.9 425.6,1105.8 C426.1,1102.7 426.5,1099.5 427.4,1096.4 C428.4,1093.3 429.5,1090.2 431.3,1087.1 C433.1,1084.0 435.3,1080.9 438.3,1077.8 C441.3,1074.7 445.3,1071.4 449.2,1068.4 C453.1,1065.4 457.6,1062.6 461.7,1059.9 C465.9,1057.2 470.0,1054.7 474.1,1052.1 C478.2,1049.5 482.5,1046.9 486.6,1044.3 C490.8,1041.7 494.9,1038.9 499.0,1036.6 C503.1,1034.3 507.0,1032.4 511.4,1030.3 C515.8,1028.2 521.2,1026.2 525.4,1024.1 C529.5,1022.0 533.4,1019.8 536.3,1017.9 C539.2,1016.0 541.3,1014.1 542.6,1012.4 C543.9,1010.7 544.5,1009.5 543.9,1007.8 C543.3,1006.1 540.8,1004.4 539.2,1002.2 C537.7,1000.0 536.0,997.0 534.6,994.4 C533.2,991.8 531.7,989.0 530.7,986.7 C529.7,984.4 529.0,982.5 528.6,980.4 C528.2,978.3 528.7,976.3 528.3,974.2 C527.9,972.1 527.4,970.1 526.0,968.0 C524.6,965.9 522.8,963.9 519.8,961.8 C516.8,959.7 512.6,957.9 508.1,955.6 C503.6,953.3 497.5,950.4 492.6,947.8 C487.7,945.2 483.0,942.6 478.6,940.0 C474.2,937.4 470.0,934.8 466.1,932.2 C462.2,929.6 458.6,927.0 455.2,924.4 C451.8,921.8 448.8,919.3 445.9,916.7 C443.1,914.1 440.4,911.5 438.1,908.9 C435.8,906.3 433.6,903.7 431.9,901.1 C430.2,898.5 429.0,895.6 428.0,893.3 C427.0,891.0 426.2,888.9 425.7,887.1 C425.2,885.4 425.1,883.5 425.0,882.8 Z"/>
<path d="M935.9,809.6 C935.9,811.1 935.7,815.6 936.1,818.7 C936.6,821.8 937.7,824.9 938.5,828.0 C939.2,831.1 940.3,834.4 940.9,837.3 C941.4,840.1 942.0,842.2 942.0,845.1 C942.0,848.0 941.4,851.0 940.9,854.4 C940.4,857.8 939.4,862.2 939.0,865.3 C938.6,868.4 938.4,870.2 938.5,873.1 C938.6,876.0 939.2,879.5 939.6,882.4 C940.0,885.2 940.7,887.6 940.9,890.2 C941.0,892.8 941.1,895.4 940.6,898.0 C940.0,900.6 939.3,903.2 937.8,905.8 C936.2,908.4 933.9,910.9 931.5,913.5 C929.0,916.1 926.0,918.5 923.0,921.3 C919.9,924.0 917.1,927.0 913.1,930.0 C909.2,933.0 904.2,936.1 899.5,939.3 C894.7,942.5 889.6,946.0 884.6,949.4 C879.7,952.8 874.6,956.2 869.9,959.6 C865.1,963.0 860.5,966.2 855.9,969.7 C851.2,973.2 846.2,976.9 841.9,980.6 C837.5,984.4 833.2,988.5 829.5,992.2 C825.7,996.0 822.1,1000.0 819.4,1003.1 C816.6,1006.2 814.5,1008.8 813.2,1010.9 C811.8,1013.0 810.9,1013.9 811.0,1015.6 C811.2,1017.3 811.8,1019.3 813.9,1021.0 C815.9,1022.7 819.6,1024.2 823.2,1025.7 C826.9,1027.2 831.5,1028.6 835.6,1030.3 C839.8,1032.0 844.5,1034.0 848.1,1035.8 C851.8,1037.6 854.6,1039.1 857.5,1041.2 C860.3,1043.3 862.6,1045.9 865.2,1048.2 C867.9,1050.5 870.2,1053.0 873.1,1055.2 C875.9,1057.4 878.7,1059.3 882.4,1061.4 C886.0,1063.5 890.6,1065.8 894.8,1067.7 C898.9,1069.7 903.6,1071.5 907.2,1073.1 C910.9,1074.7 915.0,1076.8 916.6,1077.5 L969.1,1077.5 C970.7,1076.8 974.8,1074.7 978.5,1073.1 C982.1,1071.5 986.8,1069.7 991.0,1067.7 C995.1,1065.8 999.7,1063.5 1003.4,1061.4 C1007.0,1059.3 1009.8,1057.4 1012.6,1055.2 C1015.5,1053.0 1017.9,1050.5 1020.5,1048.2 C1023.1,1045.9 1025.4,1043.3 1028.2,1041.2 C1031.1,1039.1 1033.9,1037.6 1037.5,1035.8 C1041.2,1034.0 1045.9,1032.0 1050.0,1030.3 C1054.2,1028.6 1058.8,1027.2 1062.5,1025.7 C1066.1,1024.2 1069.8,1022.7 1071.8,1021.0 C1073.9,1019.3 1074.5,1017.3 1074.7,1015.6 C1074.8,1013.9 1073.9,1013.0 1072.5,1010.9 C1071.2,1008.8 1069.1,1006.2 1066.3,1003.1 C1063.6,1000.0 1060.0,996.0 1056.2,992.2 C1052.5,988.5 1048.2,984.4 1043.8,980.6 C1039.4,976.9 1034.5,973.2 1029.8,969.7 C1025.2,966.2 1020.6,963.0 1015.9,959.6 C1011.1,956.2 1006.0,952.8 1001.1,949.4 C996.1,946.0 991.0,942.5 986.2,939.3 C981.5,936.1 976.5,933.0 972.6,930.0 C968.6,927.0 965.8,924.0 962.8,921.3 C959.7,918.5 956.7,916.1 954.2,913.5 C951.8,910.9 949.5,908.4 948.0,905.8 C946.4,903.2 945.7,900.6 945.1,898.0 C944.6,895.4 944.7,892.8 944.9,890.2 C945.0,887.6 945.8,885.2 946.1,882.4 C946.5,879.5 947.1,876.0 947.2,873.1 C947.4,870.2 947.1,868.4 946.8,865.3 C946.4,862.2 945.4,857.8 944.9,854.4 C944.4,851.0 943.8,848.0 943.8,845.1 C943.8,842.2 944.3,840.1 944.9,837.3 C945.4,834.4 946.5,831.1 947.2,828.0 C948.0,824.9 949.1,821.8 949.6,818.7 C950.0,815.6 949.8,811.1 949.9,809.6 Z"/>
<path d="M1463.4,72.2 C1463.4,78.5 1463.6,88.7 1463.7,110.0 C1463.8,131.3 1463.8,163.3 1463.8,200.0 C1463.8,236.7 1463.8,305.8 1463.8,330.0 C1463.8,354.2 1463.5,339.2 1463.5,345.0 C1463.5,350.8 1463.6,355.8 1463.7,365.0 C1463.7,374.2 1463.8,360.8 1463.8,400.0 C1463.8,439.2 1463.8,553.3 1463.8,600.0 C1463.8,646.7 1463.9,665.0 1463.8,680.0 C1463.7,695.0 1463.4,686.3 1463.1,690.0 C1462.8,693.7 1462.2,697.8 1462.1,702.0 C1462.0,706.2 1462.3,711.0 1462.6,715.0 C1462.9,719.0 1463.5,721.8 1463.7,726.0 C1463.9,730.2 1463.8,735.2 1463.8,740.0 C1463.8,744.8 1463.9,750.8 1463.7,755.0 C1463.5,759.2 1463.0,760.8 1462.8,765.0 C1462.5,769.2 1462.4,774.0 1462.2,780.0 C1462.0,786.0 1461.7,794.0 1461.5,801.0 C1461.3,808.0 1461.0,815.0 1460.8,822.0 C1460.6,829.0 1460.8,836.5 1460.5,843.0 C1460.2,849.5 1459.6,855.2 1459.2,860.7 C1458.8,866.2 1458.2,872.5 1457.9,876.0 C1457.6,879.5 1457.7,878.9 1457.4,881.5 C1457.0,884.1 1456.7,888.3 1455.8,891.8 C1454.9,895.2 1453.8,898.7 1452.2,902.2 C1450.6,905.7 1448.1,909.1 1446.0,912.6 C1443.9,916.1 1441.9,919.5 1439.7,923.0 C1437.5,926.5 1435.3,929.8 1433.0,933.3 C1430.7,936.8 1428.4,940.2 1425.7,943.7 C1423.0,947.2 1420.2,950.5 1416.9,954.0 C1413.6,957.5 1409.7,960.9 1406.1,964.4 C1402.5,967.9 1398.1,972.2 1395.1,974.8 C1392.1,977.4 1390.3,977.5 1388.2,980.0 C1386.0,982.5 1384.0,986.7 1382.2,990.0 C1380.4,993.3 1378.7,996.7 1377.6,1000.0 C1376.5,1003.3 1375.7,1006.7 1375.6,1010.0 C1375.5,1013.3 1376.1,1016.7 1377.0,1020.0 C1377.9,1023.3 1379.5,1026.7 1381.0,1030.0 C1382.5,1033.3 1384.5,1037.2 1385.8,1040.0 C1387.1,1042.8 1387.6,1044.7 1388.6,1047.0 C1389.6,1049.3 1390.3,1051.8 1392.0,1054.0 C1393.7,1056.2 1396.4,1058.2 1398.6,1060.0 C1400.8,1061.8 1402.7,1063.2 1405.0,1065.0 C1407.3,1066.8 1409.9,1069.0 1412.4,1071.0 C1414.9,1073.0 1417.4,1075.0 1420.0,1077.0 C1422.6,1079.0 1425.4,1081.0 1428.1,1083.0 C1430.8,1085.0 1433.5,1086.8 1436.0,1089.0 C1438.5,1091.2 1441.1,1093.8 1443.1,1096.0 C1445.1,1098.2 1446.4,1100.0 1448.0,1102.0 C1449.6,1104.0 1451.3,1106.2 1452.6,1108.0 C1453.9,1109.8 1455.0,1111.2 1456.0,1113.0 C1457.0,1114.8 1458.1,1117.0 1458.9,1119.0 C1459.7,1121.0 1460.5,1123.2 1461.0,1125.0 C1461.5,1126.8 1461.8,1128.3 1462.1,1130.0 C1462.4,1131.7 1462.8,1133.3 1463.0,1135.0 C1463.2,1136.7 1463.4,1139.2 1463.5,1140.0 L1466.7,1140.0 C1466.8,1139.2 1467.0,1136.7 1467.2,1135.0 C1467.4,1133.3 1467.8,1131.7 1468.1,1130.0 C1468.4,1128.3 1468.7,1126.8 1469.2,1125.0 C1469.7,1123.2 1470.5,1121.0 1471.3,1119.0 C1472.1,1117.0 1473.1,1114.8 1474.2,1113.0 C1475.2,1111.2 1476.3,1109.8 1477.6,1108.0 C1478.9,1106.2 1480.6,1104.0 1482.2,1102.0 C1483.8,1100.0 1485.1,1098.2 1487.1,1096.0 C1489.1,1093.8 1491.7,1091.2 1494.2,1089.0 C1496.7,1086.8 1499.4,1085.0 1502.1,1083.0 C1504.8,1081.0 1507.6,1079.0 1510.2,1077.0 C1512.8,1075.0 1515.3,1073.0 1517.8,1071.0 C1520.3,1069.0 1522.9,1066.8 1525.2,1065.0 C1527.5,1063.2 1529.4,1061.8 1531.6,1060.0 C1533.8,1058.2 1536.5,1056.2 1538.2,1054.0 C1539.9,1051.8 1540.6,1049.3 1541.6,1047.0 C1542.6,1044.7 1543.1,1042.8 1544.4,1040.0 C1545.7,1037.2 1547.7,1033.3 1549.2,1030.0 C1550.7,1026.7 1552.3,1023.3 1553.2,1020.0 C1554.1,1016.7 1554.7,1013.3 1554.6,1010.0 C1554.5,1006.7 1553.7,1003.3 1552.6,1000.0 C1551.5,996.7 1549.8,993.3 1548.0,990.0 C1546.2,986.7 1544.2,982.5 1542.0,980.0 C1539.8,977.5 1538.1,977.4 1535.1,974.8 C1532.1,972.2 1527.7,967.9 1524.1,964.4 C1520.5,960.9 1516.6,957.5 1513.3,954.0 C1510.0,950.5 1507.2,947.2 1504.5,943.7 C1501.8,940.2 1499.5,936.8 1497.2,933.3 C1494.9,929.8 1492.7,926.5 1490.5,923.0 C1488.3,919.5 1486.3,916.1 1484.2,912.6 C1482.1,909.1 1479.6,905.7 1478.0,902.2 C1476.4,898.7 1475.3,895.2 1474.4,891.8 C1473.5,888.3 1473.1,884.1 1472.8,881.5 C1472.5,878.9 1472.6,879.5 1472.3,876.0 C1472.0,872.5 1471.4,866.2 1471.0,860.7 C1470.6,855.2 1470.0,849.5 1469.7,843.0 C1469.4,836.5 1469.6,829.0 1469.4,822.0 C1469.2,815.0 1468.9,808.0 1468.7,801.0 C1468.5,794.0 1468.2,786.0 1468.0,780.0 C1467.8,774.0 1467.6,769.2 1467.4,765.0 C1467.1,760.8 1466.7,759.2 1466.5,755.0 C1466.3,750.8 1466.4,744.8 1466.4,740.0 C1466.4,735.2 1466.3,730.2 1466.5,726.0 C1466.7,721.8 1467.3,719.0 1467.6,715.0 C1467.9,711.0 1468.2,706.2 1468.1,702.0 C1468.0,697.8 1467.4,693.7 1467.1,690.0 C1466.8,686.3 1466.5,695.0 1466.4,680.0 C1466.3,665.0 1466.4,646.7 1466.4,600.0 C1466.4,553.3 1466.4,439.2 1466.4,400.0 C1466.4,360.8 1466.5,374.2 1466.5,365.0 C1466.5,355.8 1466.7,350.8 1466.7,345.0 C1466.7,339.2 1466.4,354.2 1466.4,330.0 C1466.3,305.8 1466.4,236.7 1466.4,200.0 C1466.4,163.3 1466.4,131.3 1466.5,110.0 C1466.6,88.7 1466.8,78.5 1466.8,72.2 Z"/>
</g>
<g id="means" fill="#8b0000">
<circle cx="420.6" cy="994.4" r="23.5"/>
<circle cx="942.85" cy="999.3" r="23.5"/>
<circle cx="1465.1" cy="960.4" r="23.5"/>
</g>
<g id="labels">
<line x1="518" x2="427.0" y1="994.2" y2="994.2" stroke="#000" stroke-width="3.5" stroke-linecap="round" stroke-dasharray="4 12 16 12"/>
<rect x="518" y="960" width="221.5" height="67.3" rx="8.5" ry="8.5" fill="#fff" stroke="#000" stroke-width="2.2"/>
<text x="544.2" y="1001.5" text-anchor="middle" class="hat">^</text>
<text transform="translate(535,1006.5) scale(1.1,0.9) skewX(14)" class="mu">μ</text>
<text x="555" y="1012.5" class="sub">mean</text>
<text x="623.3" y="1006.5" class="eq">=</text>
<text transform="translate(654,1006.5) scale(1.02,1.05)" class="lab">4.07</text>
<line x1="1041" x2="949.2" y1="999.1" y2="999.1" stroke="#000" stroke-width="3.5" stroke-linecap="round" stroke-dasharray="4 12 16 12"/>
<rect x="1041" y="965" width="221.5" height="67.3" rx="8.5" ry="8.5" fill="#fff" stroke="#000" stroke-width="2.2"/>
<text x="1067.2" y="1006.5" text-anchor="middle" class="hat">^</text>
<text transform="translate(1058,1011.5) scale(1.1,0.9) skewX(14)" class="mu">μ</text>
<text x="1078" y="1017.5" class="sub">mean</text>
<text x="1146.3" y="1011.5" class="eq">=</text>
<text transform="translate(1177,1011.5) scale(1.02,1.05)" class="lab">4.04</text>
<line x1="1543" x2="1471.5" y1="960.2" y2="960.2" stroke="#000" stroke-width="3.5" stroke-linecap="round" stroke-dasharray="4 12 16 12"/>
<rect x="1543" y="926" width="221.5" height="67.3" rx="8.5" ry="8.5" fill="#fff" stroke="#000" stroke-width="2.2"/>
<text x="1569.2" y="967.5" text-anchor="middle" class="hat">^</text>
<text transform="translate(1560,972.5) scale(1.1,0.9) skewX(14)" class="mu">μ</text>
<text x="1580" y="978.5" class="sub">mean</text>
<text x="1648.3" y="972.5" class="eq">=</text>
<text transform="translate(1679,972.5) scale(1.02,1.05)" class="lab">4.26</text>
</g>
<g id="axis-text">
<text transform="translate(88,1199.9) scale(1,1.045)" text-anchor="end" class="ax">3</text>
<text transform="translate(88,1020.4) scale(1,1.045)" text-anchor="end" class="ax">4</text>
<text transform="translate(88,840.8) scale(1,1.045)" text-anchor="end" class="ax">5</text>
<text transform="translate(88,661.2) scale(1,1.045)" text-anchor="end" class="ax">6</text>
<text transform="translate(88,481.7) scale(1,1.045)" text-anchor="end" class="ax">7</text>
<text transform="translate(88,302.1) scale(1,1.045)" text-anchor="end" class="ax">8</text>
<text transform="translate(88,122.6) scale(1,1.045)" text-anchor="end" class="ax">9</text>
<text transform="translate(418.9,1236.8) scale(0.955,1)" text-anchor="middle" class="ax">Healthy</text>
<text transform="translate(420.1,1272.9) scale(0.981,1)" text-anchor="middle" class="ax">(n = 178)</text>
<text transform="translate(942.25,1236.8) scale(0.967,1)" text-anchor="middle" class="ax">Adjacent</text>
<text transform="translate(942.5,1272.9) scale(1.0,1)" text-anchor="middle" class="ax">(n = 115)</text>
<text transform="translate(1464.35,1236.8) scale(0.984,1)" text-anchor="middle" class="ax">Case</text>
<text transform="translate(1465.6,1272.9) scale(0.985,1)" text-anchor="middle" class="ax">(n = 1,076)</text>
<text transform="translate(52.2,606.2) rotate(-90) scale(1.0086,1)" text-anchor="middle" class="ttl">Molecule Expression (log2)</text>
</g>
</svg></body></html>
